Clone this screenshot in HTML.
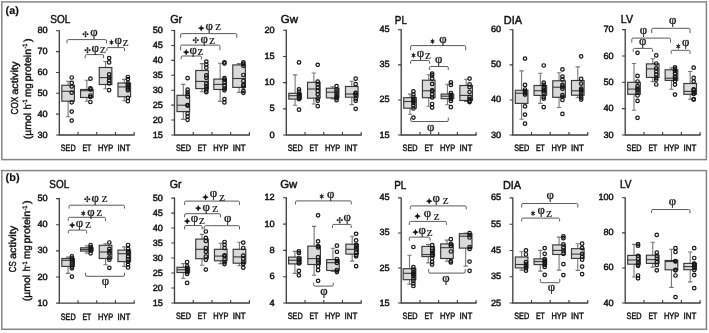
<!DOCTYPE html>
<html lang="en"><head><meta charset="utf-8"><title>COX and CS activity</title>
<style>html,body{margin:0;padding:0;background:#fff}svg{display:block}</style></head><body>
<svg width="709" height="333" viewBox="0 0 709 333" text-rendering="geometricPrecision">
<defs><filter id="soft" x="0" y="0" width="709" height="333" filterUnits="userSpaceOnUse"><feGaussianBlur stdDeviation="0.35"/></filter></defs>
<rect width="709" height="333" fill="#fff"/>
<g filter="url(#soft)">
<rect x="1.8" y="1.9" width="704.6" height="157.7" fill="#fff" stroke="#868686" stroke-width="1.5"/>
<rect x="1.8" y="170.6" width="704.6" height="158.7" fill="#fff" stroke="#868686" stroke-width="1.5"/>
<text x="5.6" y="14.1" font-family="Liberation Sans, sans-serif" font-size="10.8" fill="#111" textLength="13.4" lengthAdjust="spacingAndGlyphs" font-weight="bold" stroke="#111" stroke-width="0.15">(a)</text>
<text x="5.6" y="180.7" font-family="Liberation Sans, sans-serif" font-size="10.8" fill="#111" textLength="14" lengthAdjust="spacingAndGlyphs" font-weight="bold" stroke="#111" stroke-width="0.15">(b)</text>
<text transform="translate(18.1 114.6) rotate(-90)" font-family="Liberation Sans, sans-serif" font-size="10.1" fill="#101010" stroke="#101010" stroke-width="0.4" textLength="18" lengthAdjust="spacingAndGlyphs">COX</text>
<text transform="translate(18.1 94.7) rotate(-90)" font-family="Liberation Sans, sans-serif" font-size="10.1" fill="#101010" stroke="#101010" stroke-width="0.4" textLength="33" lengthAdjust="spacingAndGlyphs">activity</text>
<text transform="translate(30.9 139.2) rotate(-90)" font-family="Liberation Sans, sans-serif" font-size="10.1" fill="#101010" stroke="#101010" stroke-width="0.4" textLength="26.4" lengthAdjust="spacingAndGlyphs">(µmol</text>
<text transform="translate(30.9 109.6) rotate(-90)" font-family="Liberation Sans, sans-serif" font-size="10.1" fill="#101010" stroke="#101010" stroke-width="0.4" textLength="5.2" lengthAdjust="spacingAndGlyphs">h</text>
<text transform="translate(27.2 104.4) rotate(-90)" font-family="Liberation Sans, sans-serif" font-size="6.4" fill="#101010" stroke="#101010" stroke-width="0.4" textLength="5" lengthAdjust="spacingAndGlyphs">-1</text>
<text transform="translate(30.9 96.9) rotate(-90)" font-family="Liberation Sans, sans-serif" font-size="10.1" fill="#101010" stroke="#101010" stroke-width="0.4" textLength="13.8" lengthAdjust="spacingAndGlyphs">mg</text>
<text transform="translate(30.9 81.6) rotate(-90)" font-family="Liberation Sans, sans-serif" font-size="10.1" fill="#101010" stroke="#101010" stroke-width="0.4" textLength="32.8" lengthAdjust="spacingAndGlyphs">protein</text>
<text transform="translate(27.2 48.6) rotate(-90)" font-family="Liberation Sans, sans-serif" font-size="6.4" fill="#101010" stroke="#101010" stroke-width="0.4" textLength="5" lengthAdjust="spacingAndGlyphs">-1</text>
<text transform="translate(30.9 41.9) rotate(-90)" font-family="Liberation Sans, sans-serif" font-size="10.1" fill="#101010" stroke="#101010" stroke-width="0.4" textLength="3.8" lengthAdjust="spacingAndGlyphs">)</text>
<text transform="translate(16.1 272.2) rotate(-90)" font-family="Liberation Sans, sans-serif" font-size="10.1" fill="#101010" stroke="#101010" stroke-width="0.4" textLength="10.9" lengthAdjust="spacingAndGlyphs">CS</text>
<text transform="translate(16.1 258.9) rotate(-90)" font-family="Liberation Sans, sans-serif" font-size="10.1" fill="#101010" stroke="#101010" stroke-width="0.4" textLength="33" lengthAdjust="spacingAndGlyphs">activity</text>
<text transform="translate(30.3 301.2) rotate(-90)" font-family="Liberation Sans, sans-serif" font-size="10.1" fill="#101010" stroke="#101010" stroke-width="0.4" textLength="26.4" lengthAdjust="spacingAndGlyphs">(µmol</text>
<text transform="translate(30.3 271.6) rotate(-90)" font-family="Liberation Sans, sans-serif" font-size="10.1" fill="#101010" stroke="#101010" stroke-width="0.4" textLength="5.2" lengthAdjust="spacingAndGlyphs">h</text>
<text transform="translate(26.6 266.4) rotate(-90)" font-family="Liberation Sans, sans-serif" font-size="6.4" fill="#101010" stroke="#101010" stroke-width="0.4" textLength="5" lengthAdjust="spacingAndGlyphs">-1</text>
<text transform="translate(30.3 258.9) rotate(-90)" font-family="Liberation Sans, sans-serif" font-size="10.1" fill="#101010" stroke="#101010" stroke-width="0.4" textLength="13.8" lengthAdjust="spacingAndGlyphs">mg</text>
<text transform="translate(30.3 243.6) rotate(-90)" font-family="Liberation Sans, sans-serif" font-size="10.1" fill="#101010" stroke="#101010" stroke-width="0.4" textLength="32.8" lengthAdjust="spacingAndGlyphs">protein</text>
<text transform="translate(26.6 210.6) rotate(-90)" font-family="Liberation Sans, sans-serif" font-size="6.4" fill="#101010" stroke="#101010" stroke-width="0.4" textLength="5" lengthAdjust="spacingAndGlyphs">-1</text>
<text transform="translate(30.3 203.9) rotate(-90)" font-family="Liberation Sans, sans-serif" font-size="10.1" fill="#101010" stroke="#101010" stroke-width="0.4" textLength="3.8" lengthAdjust="spacingAndGlyphs">)</text>
<path d="M59.3 30.3V135H134.68" fill="none" stroke="#3c3c3c" stroke-width="1.3"/>
<path d="M56.1 30.8H59.3M56.1 51.64H59.3M56.1 72.48H59.3M56.1 93.32H59.3M56.1 114.16H59.3M56.1 135H59.3M78.02 135V132M96.74 135V132M115.46 135V132M134.18 135V132" fill="none" stroke="#3c3c3c" stroke-width="1.1"/>
<text x="47.7" y="33.35" font-family="Liberation Sans, sans-serif" font-size="9" fill="#101010" text-anchor="end" textLength="10.2" lengthAdjust="spacingAndGlyphs" stroke="#101010" stroke-width="0.45">80</text>
<text x="47.7" y="54.19" font-family="Liberation Sans, sans-serif" font-size="9" fill="#101010" text-anchor="end" textLength="10.2" lengthAdjust="spacingAndGlyphs" stroke="#101010" stroke-width="0.45">70</text>
<text x="47.7" y="75.03" font-family="Liberation Sans, sans-serif" font-size="9" fill="#101010" text-anchor="end" textLength="10.2" lengthAdjust="spacingAndGlyphs" stroke="#101010" stroke-width="0.45">60</text>
<text x="47.7" y="95.87" font-family="Liberation Sans, sans-serif" font-size="9" fill="#101010" text-anchor="end" textLength="10.2" lengthAdjust="spacingAndGlyphs" stroke="#101010" stroke-width="0.45">50</text>
<text x="47.7" y="116.71" font-family="Liberation Sans, sans-serif" font-size="9" fill="#101010" text-anchor="end" textLength="10.2" lengthAdjust="spacingAndGlyphs" stroke="#101010" stroke-width="0.45">40</text>
<text x="47.7" y="137.55" font-family="Liberation Sans, sans-serif" font-size="9" fill="#101010" text-anchor="end" textLength="10.2" lengthAdjust="spacingAndGlyphs" stroke="#101010" stroke-width="0.45">30</text>
<text x="60.71" y="151.2" font-family="Liberation Sans, sans-serif" font-size="9.2" fill="#101010" textLength="15" lengthAdjust="spacingAndGlyphs" stroke="#101010" stroke-width="0.45">SED</text>
<text x="82.48" y="151.2" font-family="Liberation Sans, sans-serif" font-size="9.2" fill="#101010" textLength="8.9" lengthAdjust="spacingAndGlyphs" stroke="#101010" stroke-width="0.45">ET</text>
<text x="98" y="151.2" font-family="Liberation Sans, sans-serif" font-size="9.2" fill="#101010" textLength="15.3" lengthAdjust="spacingAndGlyphs" stroke="#101010" stroke-width="0.45">HYP</text>
<text x="117.57" y="151.2" font-family="Liberation Sans, sans-serif" font-size="9.2" fill="#101010" textLength="12.8" lengthAdjust="spacingAndGlyphs" stroke="#101010" stroke-width="0.45">INT</text>
<text x="50.25" y="23.2" font-family="Liberation Sans, sans-serif" font-size="11.5" fill="#101010" textLength="20" lengthAdjust="spacingAndGlyphs" stroke="#101010" stroke-width="0.45">SOL</text>
<path d="M68.11 81.3V85.3M68.11 101.2V116.8M65.91 81.3H70.31M65.91 116.8H70.31" fill="none" stroke="#787878" stroke-width="1.1"/>
<rect x="61.81" y="85.3" width="12.6" height="15.9" fill="#d9d9d9" stroke="#383838" stroke-width="1.15"/>
<path d="M61.81 91.3H74.41" stroke="#383838" stroke-width="1.1"/>
<g fill="none" stroke="#141414" stroke-width="1.2"><circle cx="71.71" cy="77.5" r="1.75"/><circle cx="71.71" cy="82.9" r="1.75"/><circle cx="71.71" cy="86.5" r="1.75"/><circle cx="71.71" cy="92.7" r="1.75"/><circle cx="71.71" cy="102.3" r="1.75"/><circle cx="71.71" cy="111.6" r="1.75"/><circle cx="71.71" cy="120.6" r="1.75"/></g>
<path d="M86.83 80.2V89.5M86.83 97.5V101.2M84.63 80.2H89.03M84.63 101.2H89.03" fill="none" stroke="#787878" stroke-width="1.1"/>
<rect x="80.53" y="89.5" width="12.6" height="8" fill="#d9d9d9" stroke="#383838" stroke-width="1.15"/>
<path d="M80.53 90.7H93.13" stroke="#383838" stroke-width="1.1"/>
<g fill="none" stroke="#141414" stroke-width="1.2"><circle cx="90.43" cy="78.7" r="1.75"/><circle cx="90.43" cy="88.3" r="1.75"/><circle cx="90.43" cy="89.4" r="1.75"/><circle cx="90.43" cy="95.5" r="1.75"/><circle cx="90.43" cy="97" r="1.75"/><circle cx="90.43" cy="102" r="1.75"/></g>
<path d="M105.55 61.5V67.5M105.55 84.5V88.7M103.35 61.5H107.75M103.35 88.7H107.75" fill="none" stroke="#787878" stroke-width="1.1"/>
<rect x="99.25" y="67.5" width="12.6" height="17" fill="#d9d9d9" stroke="#383838" stroke-width="1.15"/>
<path d="M99.25 77.6H111.85" stroke="#383838" stroke-width="1.1"/>
<g fill="none" stroke="#141414" stroke-width="1.2"><circle cx="109.15" cy="58.1" r="1.75"/><circle cx="109.15" cy="62.4" r="1.75"/><circle cx="109.15" cy="74.3" r="1.75"/><circle cx="109.15" cy="77.6" r="1.75"/><circle cx="109.15" cy="80.6" r="1.75"/><circle cx="109.15" cy="83.4" r="1.75"/><circle cx="109.15" cy="90.2" r="1.75"/></g>
<path d="M124.27 79.4V83M124.27 96.7V100.8M122.07 79.4H126.47M122.07 100.8H126.47" fill="none" stroke="#787878" stroke-width="1.1"/>
<rect x="117.97" y="83" width="12.6" height="13.7" fill="#d9d9d9" stroke="#383838" stroke-width="1.15"/>
<path d="M117.97 86.9H130.57" stroke="#383838" stroke-width="1.1"/>
<g fill="none" stroke="#141414" stroke-width="1.2"><circle cx="127.87" cy="77" r="1.75"/><circle cx="127.87" cy="79.2" r="1.75"/><circle cx="127.87" cy="83.3" r="1.75"/><circle cx="127.87" cy="85.1" r="1.75"/><circle cx="127.87" cy="86.9" r="1.75"/><circle cx="127.87" cy="88.7" r="1.75"/><circle cx="127.87" cy="90.3" r="1.75"/><circle cx="127.87" cy="97.8" r="1.75"/><circle cx="127.87" cy="101.2" r="1.75"/></g>
<path d="M67 43.3V40.9Q67 39.6 68.3 39.6H105.2Q106.5 39.6 106.5 40.9V43.3" fill="none" stroke="#4a4a4a" stroke-width="0.9"/>
<path d="M85.2 58.2V55.9Q85.2 54.6 86.5 54.6H102.3Q103.6 54.6 103.6 55.9V58.2" fill="none" stroke="#4a4a4a" stroke-width="0.9"/>
<path d="M106.9 51V48.9Q106.9 47.6 108.2 47.6H123.2Q124.5 47.6 124.5 48.9V51" fill="none" stroke="#4a4a4a" stroke-width="0.9"/>
<text x="82.3" y="36.7" font-family="DejaVu Sans, sans-serif" font-size="7.8" fill="#101010" stroke="#1a1a1a" stroke-width="0.22">✣</text>
<text x="90.3" y="35.5" font-family="Liberation Serif, serif" font-size="13" fill="#101010" textLength="7.4" lengthAdjust="spacingAndGlyphs" stroke="#1a1a1a" stroke-width="0.3">φ</text>
<text x="84.3" y="52.6" font-family="DejaVu Sans, sans-serif" font-size="7.8" fill="#101010" stroke="#1a1a1a" stroke-width="0.22">✣</text>
<text x="91.6" y="51.9" font-family="Liberation Serif, serif" font-size="13" fill="#101010" textLength="7.4" lengthAdjust="spacingAndGlyphs" stroke="#1a1a1a" stroke-width="0.3">φ</text>
<text x="100.05" y="52.9" font-family="Liberation Serif, serif" font-size="13" fill="#101010" stroke="#1a1a1a" stroke-width="0.12">z</text>
<text x="109.1" y="45.2" font-family="DejaVu Sans, sans-serif" font-size="7.2" fill="#101010" textLength="5" lengthAdjust="spacingAndGlyphs" stroke="#1a1a1a" stroke-width="0.55" stroke-linejoin="miter">✶</text>
<text x="114.5" y="44.2" font-family="Liberation Serif, serif" font-size="13" fill="#101010" textLength="7.4" lengthAdjust="spacingAndGlyphs" stroke="#1a1a1a" stroke-width="0.3">φ</text>
<text x="122.65" y="45.6" font-family="Liberation Serif, serif" font-size="13" fill="#101010" stroke="#1a1a1a" stroke-width="0.12">z</text>
<path d="M174.5 30V135H249.88" fill="none" stroke="#3c3c3c" stroke-width="1.3"/>
<path d="M171.3 30.5H174.5M171.3 45.43H174.5M171.3 60.36H174.5M171.3 75.29H174.5M171.3 90.21H174.5M171.3 105.14H174.5M171.3 120.07H174.5M171.3 135H174.5M193.22 135V132M211.94 135V132M230.66 135V132M249.38 135V132" fill="none" stroke="#3c3c3c" stroke-width="1.1"/>
<text x="162.9" y="33.05" font-family="Liberation Sans, sans-serif" font-size="9" fill="#101010" text-anchor="end" textLength="10.2" lengthAdjust="spacingAndGlyphs" stroke="#101010" stroke-width="0.45">50</text>
<text x="162.9" y="47.98" font-family="Liberation Sans, sans-serif" font-size="9" fill="#101010" text-anchor="end" textLength="10.2" lengthAdjust="spacingAndGlyphs" stroke="#101010" stroke-width="0.45">45</text>
<text x="162.9" y="62.91" font-family="Liberation Sans, sans-serif" font-size="9" fill="#101010" text-anchor="end" textLength="10.2" lengthAdjust="spacingAndGlyphs" stroke="#101010" stroke-width="0.45">40</text>
<text x="162.9" y="77.84" font-family="Liberation Sans, sans-serif" font-size="9" fill="#101010" text-anchor="end" textLength="10.2" lengthAdjust="spacingAndGlyphs" stroke="#101010" stroke-width="0.45">35</text>
<text x="162.9" y="92.76" font-family="Liberation Sans, sans-serif" font-size="9" fill="#101010" text-anchor="end" textLength="10.2" lengthAdjust="spacingAndGlyphs" stroke="#101010" stroke-width="0.45">30</text>
<text x="162.9" y="107.69" font-family="Liberation Sans, sans-serif" font-size="9" fill="#101010" text-anchor="end" textLength="10.2" lengthAdjust="spacingAndGlyphs" stroke="#101010" stroke-width="0.45">25</text>
<text x="162.9" y="122.62" font-family="Liberation Sans, sans-serif" font-size="9" fill="#101010" text-anchor="end" textLength="10.2" lengthAdjust="spacingAndGlyphs" stroke="#101010" stroke-width="0.45">20</text>
<text x="162.9" y="137.55" font-family="Liberation Sans, sans-serif" font-size="9" fill="#101010" text-anchor="end" textLength="10.2" lengthAdjust="spacingAndGlyphs" stroke="#101010" stroke-width="0.45">15</text>
<text x="175.91" y="151.2" font-family="Liberation Sans, sans-serif" font-size="9.2" fill="#101010" textLength="15" lengthAdjust="spacingAndGlyphs" stroke="#101010" stroke-width="0.45">SED</text>
<text x="197.68" y="151.2" font-family="Liberation Sans, sans-serif" font-size="9.2" fill="#101010" textLength="8.9" lengthAdjust="spacingAndGlyphs" stroke="#101010" stroke-width="0.45">ET</text>
<text x="213.2" y="151.2" font-family="Liberation Sans, sans-serif" font-size="9.2" fill="#101010" textLength="15.3" lengthAdjust="spacingAndGlyphs" stroke="#101010" stroke-width="0.45">HYP</text>
<text x="232.77" y="151.2" font-family="Liberation Sans, sans-serif" font-size="9.2" fill="#101010" textLength="12.8" lengthAdjust="spacingAndGlyphs" stroke="#101010" stroke-width="0.45">INT</text>
<text x="170.15" y="22.9" font-family="Liberation Sans, sans-serif" font-size="11.5" fill="#101010" textLength="12.1" lengthAdjust="spacingAndGlyphs" stroke="#101010" stroke-width="0.45">Gr</text>
<path d="M183.31 84.4V95.3M183.31 111.6V119.4M181.11 84.4H185.51M181.11 119.4H185.51" fill="none" stroke="#787878" stroke-width="1.1"/>
<rect x="177.01" y="95.3" width="12.6" height="16.3" fill="#d9d9d9" stroke="#383838" stroke-width="1.15"/>
<path d="M177.01 105.2H189.61" stroke="#383838" stroke-width="1.1"/>
<g fill="none" stroke="#141414" stroke-width="1.2"><circle cx="187.61" cy="78.2" r="1.75"/><circle cx="187.61" cy="89.6" r="1.75"/><circle cx="187.61" cy="92" r="1.75"/><circle cx="187.61" cy="94" r="1.75"/><circle cx="187.61" cy="96.6" r="1.75"/><circle cx="187.61" cy="105.2" r="1.75"/><circle cx="187.61" cy="105.6" r="1.75"/><circle cx="187.61" cy="113.5" r="1.75"/><circle cx="187.61" cy="116.6" r="1.75"/><circle cx="187.61" cy="119.8" r="1.75"/></g>
<path d="M202.03 63.6V70.5M202.03 88.6V91.8M199.83 63.6H204.23M199.83 91.8H204.23" fill="none" stroke="#787878" stroke-width="1.1"/>
<rect x="195.73" y="70.5" width="12.6" height="18.1" fill="#d9d9d9" stroke="#383838" stroke-width="1.15"/>
<path d="M195.73 81.4H208.33" stroke="#383838" stroke-width="1.1"/>
<g fill="none" stroke="#141414" stroke-width="1.2"><circle cx="206.33" cy="61.6" r="1.75"/><circle cx="206.33" cy="64.5" r="1.75"/><circle cx="206.33" cy="67.7" r="1.75"/><circle cx="206.33" cy="75.3" r="1.75"/><circle cx="206.33" cy="77.8" r="1.75"/><circle cx="206.33" cy="83.6" r="1.75"/><circle cx="206.33" cy="86.1" r="1.75"/><circle cx="206.33" cy="88.6" r="1.75"/><circle cx="206.33" cy="90.5" r="1.75"/><circle cx="206.33" cy="92.2" r="1.75"/></g>
<path d="M220.15 63.2V79.1M220.15 89.5V101.4M217.95 63.2H222.35M217.95 101.4H222.35" fill="none" stroke="#787878" stroke-width="1.1"/>
<rect x="213.85" y="79.1" width="12.6" height="10.4" fill="#d9d9d9" stroke="#383838" stroke-width="1.15"/>
<path d="M213.85 84.4H226.45" stroke="#383838" stroke-width="1.1"/>
<g fill="none" stroke="#141414" stroke-width="1.2"><circle cx="224.45" cy="62.4" r="1.75"/><circle cx="224.45" cy="63.4" r="1.75"/><circle cx="224.45" cy="78.2" r="1.75"/><circle cx="224.45" cy="79.7" r="1.75"/><circle cx="224.45" cy="82.3" r="1.75"/><circle cx="224.45" cy="85.5" r="1.75"/><circle cx="224.45" cy="88.6" r="1.75"/><circle cx="224.45" cy="90.3" r="1.75"/><circle cx="224.45" cy="99.1" r="1.75"/><circle cx="224.45" cy="102.4" r="1.75"/></g>
<path d="M239.07 63.6V64.9M239.07 87.4V92.4M236.87 63.6H241.27M236.87 92.4H241.27" fill="none" stroke="#787878" stroke-width="1.1"/>
<rect x="232.77" y="64.9" width="12.6" height="22.5" fill="#d9d9d9" stroke="#383838" stroke-width="1.15"/>
<path d="M232.77 78.5H245.37" stroke="#383838" stroke-width="1.1"/>
<g fill="none" stroke="#141414" stroke-width="1.2"><circle cx="243.37" cy="62.4" r="1.75"/><circle cx="243.37" cy="63.9" r="1.75"/><circle cx="243.37" cy="65.8" r="1.75"/><circle cx="243.37" cy="75" r="1.75"/><circle cx="243.37" cy="81" r="1.75"/><circle cx="243.37" cy="84.8" r="1.75"/><circle cx="243.37" cy="86.5" r="1.75"/><circle cx="243.37" cy="90.9" r="1.75"/><circle cx="243.37" cy="92.8" r="1.75"/></g>
<path d="M180.6 37.8V34.9Q180.6 33.6 181.9 33.6H235.5Q236.8 33.6 236.8 34.9V37.8" fill="none" stroke="#4a4a4a" stroke-width="0.9"/>
<path d="M180.6 50.2V46.4Q180.6 45.1 181.9 45.1H218.6Q219.9 45.1 219.9 46.4V50.2" fill="none" stroke="#4a4a4a" stroke-width="0.9"/>
<path d="M181.2 59.3V57.3Q181.2 56 182.5 56H200.1Q201.4 56 201.4 57.3V59.3" fill="none" stroke="#4a4a4a" stroke-width="0.9"/>
<text x="197.9" y="30.5" font-family="DejaVu Sans, sans-serif" font-size="7.7" fill="#101010" stroke="#1a1a1a" stroke-width="0.75" stroke-linejoin="miter">✦</text>
<text x="205.5" y="29.7" font-family="Liberation Serif, serif" font-size="13" fill="#101010" textLength="7.4" lengthAdjust="spacingAndGlyphs" stroke="#1a1a1a" stroke-width="0.3">φ</text>
<text x="215.25" y="30.4" font-family="Liberation Serif, serif" font-size="13" fill="#101010" stroke="#1a1a1a" stroke-width="0.12">z</text>
<text x="192.4" y="43.1" font-family="DejaVu Sans, sans-serif" font-size="7.8" fill="#101010" stroke="#1a1a1a" stroke-width="0.22">✣</text>
<text x="200.6" y="42.9" font-family="Liberation Serif, serif" font-size="13" fill="#101010" textLength="7.4" lengthAdjust="spacingAndGlyphs" stroke="#1a1a1a" stroke-width="0.3">φ</text>
<text x="209.25" y="43.6" font-family="Liberation Serif, serif" font-size="13" fill="#101010" stroke="#1a1a1a" stroke-width="0.12">z</text>
<text x="183.1" y="54.7" font-family="DejaVu Sans, sans-serif" font-size="7.7" fill="#101010" stroke="#1a1a1a" stroke-width="0.75" stroke-linejoin="miter">✦</text>
<text x="189.6" y="54.2" font-family="Liberation Serif, serif" font-size="13" fill="#101010" textLength="7.4" lengthAdjust="spacingAndGlyphs" stroke="#1a1a1a" stroke-width="0.3">φ</text>
<text x="197.45" y="54.9" font-family="Liberation Serif, serif" font-size="13" fill="#101010" stroke="#1a1a1a" stroke-width="0.12">z</text>
<path d="M286.3 29.8V135H361.68" fill="none" stroke="#3c3c3c" stroke-width="1.3"/>
<path d="M283.1 30.3H286.3M283.1 56.48H286.3M283.1 82.65H286.3M283.1 108.83H286.3M283.1 135H286.3M305.02 135V132M323.74 135V132M342.46 135V132M361.18 135V132" fill="none" stroke="#3c3c3c" stroke-width="1.1"/>
<text x="274.7" y="32.85" font-family="Liberation Sans, sans-serif" font-size="9" fill="#101010" text-anchor="end" textLength="10.2" lengthAdjust="spacingAndGlyphs" stroke="#101010" stroke-width="0.45">20</text>
<text x="274.7" y="59.02" font-family="Liberation Sans, sans-serif" font-size="9" fill="#101010" text-anchor="end" textLength="10.2" lengthAdjust="spacingAndGlyphs" stroke="#101010" stroke-width="0.45">15</text>
<text x="274.7" y="85.2" font-family="Liberation Sans, sans-serif" font-size="9" fill="#101010" text-anchor="end" textLength="10.2" lengthAdjust="spacingAndGlyphs" stroke="#101010" stroke-width="0.45">10</text>
<text x="274.7" y="111.38" font-family="Liberation Sans, sans-serif" font-size="9" fill="#101010" text-anchor="end" textLength="5.2" lengthAdjust="spacingAndGlyphs" stroke="#101010" stroke-width="0.45">5</text>
<text x="274.7" y="137.55" font-family="Liberation Sans, sans-serif" font-size="9" fill="#101010" text-anchor="end" textLength="5.2" lengthAdjust="spacingAndGlyphs" stroke="#101010" stroke-width="0.45">0</text>
<text x="287.71" y="151.2" font-family="Liberation Sans, sans-serif" font-size="9.2" fill="#101010" textLength="15" lengthAdjust="spacingAndGlyphs" stroke="#101010" stroke-width="0.45">SED</text>
<text x="309.48" y="151.2" font-family="Liberation Sans, sans-serif" font-size="9.2" fill="#101010" textLength="8.9" lengthAdjust="spacingAndGlyphs" stroke="#101010" stroke-width="0.45">ET</text>
<text x="325" y="151.2" font-family="Liberation Sans, sans-serif" font-size="9.2" fill="#101010" textLength="15.3" lengthAdjust="spacingAndGlyphs" stroke="#101010" stroke-width="0.45">HYP</text>
<text x="344.57" y="151.2" font-family="Liberation Sans, sans-serif" font-size="9.2" fill="#101010" textLength="12.8" lengthAdjust="spacingAndGlyphs" stroke="#101010" stroke-width="0.45">INT</text>
<text x="280.85" y="22.9" font-family="Liberation Sans, sans-serif" font-size="11.5" fill="#101010" textLength="17.2" lengthAdjust="spacingAndGlyphs" stroke="#101010" stroke-width="0.45">Gw</text>
<path d="M295.11 74.9V93.3M295.11 99.1V105.2M292.91 74.9H297.31M292.91 105.2H297.31" fill="none" stroke="#787878" stroke-width="1.1"/>
<rect x="288.81" y="93.3" width="12.6" height="5.8" fill="#d9d9d9" stroke="#383838" stroke-width="1.15"/>
<path d="M288.81 95.7H301.41" stroke="#383838" stroke-width="1.1"/>
<g fill="none" stroke="#141414" stroke-width="1.2"><circle cx="299.01" cy="62.4" r="1.75"/><circle cx="299.01" cy="89.3" r="1.75"/><circle cx="299.01" cy="91.7" r="1.75"/><circle cx="299.01" cy="94.4" r="1.75"/><circle cx="299.01" cy="96.1" r="1.75"/><circle cx="299.01" cy="97.6" r="1.75"/><circle cx="299.01" cy="99.1" r="1.75"/><circle cx="299.01" cy="109.7" r="1.75"/></g>
<path d="M313.83 73V82.3M313.83 98.2V104M311.63 73H316.03M311.63 104H316.03" fill="none" stroke="#787878" stroke-width="1.1"/>
<rect x="307.53" y="82.3" width="12.6" height="15.9" fill="#d9d9d9" stroke="#383838" stroke-width="1.15"/>
<path d="M307.53 89H320.13" stroke="#383838" stroke-width="1.1"/>
<g fill="none" stroke="#141414" stroke-width="1.2"><circle cx="317.73" cy="64.8" r="1.75"/><circle cx="317.73" cy="81.6" r="1.75"/><circle cx="317.73" cy="84.4" r="1.75"/><circle cx="317.73" cy="87.4" r="1.75"/><circle cx="317.73" cy="90.9" r="1.75"/><circle cx="317.73" cy="94.3" r="1.75"/><circle cx="317.73" cy="98.6" r="1.75"/><circle cx="317.73" cy="100.8" r="1.75"/><circle cx="317.73" cy="106.2" r="1.75"/></g>
<path d="M332.65 86.7V88.2M332.65 97.9V98.9M330.45 86.7H334.85M330.45 98.9H334.85" fill="none" stroke="#787878" stroke-width="1.1"/>
<rect x="326.35" y="88.2" width="12.6" height="9.7" fill="#d9d9d9" stroke="#383838" stroke-width="1.15"/>
<path d="M326.35 92.2H338.95" stroke="#383838" stroke-width="1.1"/>
<g fill="none" stroke="#141414" stroke-width="1.2"><circle cx="336.55" cy="86.1" r="1.75"/><circle cx="336.55" cy="89.3" r="1.75"/><circle cx="336.55" cy="91.6" r="1.75"/><circle cx="336.55" cy="93.8" r="1.75"/><circle cx="336.55" cy="96.3" r="1.75"/><circle cx="336.55" cy="98.2" r="1.75"/><circle cx="336.55" cy="100.2" r="1.75"/></g>
<path d="M351.77 81.3V86.5M351.77 97.2V104.6M349.57 81.3H353.97M349.57 104.6H353.97" fill="none" stroke="#787878" stroke-width="1.1"/>
<rect x="345.47" y="86.5" width="12.6" height="10.7" fill="#d9d9d9" stroke="#383838" stroke-width="1.15"/>
<path d="M345.47 94H358.07" stroke="#383838" stroke-width="1.1"/>
<g fill="none" stroke="#141414" stroke-width="1.2"><circle cx="355.67" cy="78.7" r="1.75"/><circle cx="355.67" cy="84.2" r="1.75"/><circle cx="355.67" cy="92.9" r="1.75"/><circle cx="355.67" cy="93.5" r="1.75"/><circle cx="355.67" cy="95" r="1.75"/><circle cx="355.67" cy="98.6" r="1.75"/><circle cx="355.67" cy="100.8" r="1.75"/><circle cx="355.67" cy="108.8" r="1.75"/></g>
<path d="M401.2 29.3V135H476.58" fill="none" stroke="#3c3c3c" stroke-width="1.3"/>
<path d="M398 29.8H401.2M398 64.87H401.2M398 99.93H401.2M398 135H401.2M419.92 135V132M438.64 135V132M457.36 135V132M476.08 135V132" fill="none" stroke="#3c3c3c" stroke-width="1.1"/>
<text x="389.6" y="32.35" font-family="Liberation Sans, sans-serif" font-size="9" fill="#101010" text-anchor="end" textLength="10.2" lengthAdjust="spacingAndGlyphs" stroke="#101010" stroke-width="0.45">45</text>
<text x="389.6" y="67.42" font-family="Liberation Sans, sans-serif" font-size="9" fill="#101010" text-anchor="end" textLength="10.2" lengthAdjust="spacingAndGlyphs" stroke="#101010" stroke-width="0.45">35</text>
<text x="389.6" y="102.48" font-family="Liberation Sans, sans-serif" font-size="9" fill="#101010" text-anchor="end" textLength="10.2" lengthAdjust="spacingAndGlyphs" stroke="#101010" stroke-width="0.45">25</text>
<text x="389.6" y="137.55" font-family="Liberation Sans, sans-serif" font-size="9" fill="#101010" text-anchor="end" textLength="10.2" lengthAdjust="spacingAndGlyphs" stroke="#101010" stroke-width="0.45">15</text>
<text x="402.61" y="151.2" font-family="Liberation Sans, sans-serif" font-size="9.2" fill="#101010" textLength="15" lengthAdjust="spacingAndGlyphs" stroke="#101010" stroke-width="0.45">SED</text>
<text x="424.38" y="151.2" font-family="Liberation Sans, sans-serif" font-size="9.2" fill="#101010" textLength="8.9" lengthAdjust="spacingAndGlyphs" stroke="#101010" stroke-width="0.45">ET</text>
<text x="439.9" y="151.2" font-family="Liberation Sans, sans-serif" font-size="9.2" fill="#101010" textLength="15.3" lengthAdjust="spacingAndGlyphs" stroke="#101010" stroke-width="0.45">HYP</text>
<text x="459.47" y="151.2" font-family="Liberation Sans, sans-serif" font-size="9.2" fill="#101010" textLength="12.8" lengthAdjust="spacingAndGlyphs" stroke="#101010" stroke-width="0.45">INT</text>
<text x="394.85" y="23.5" font-family="Liberation Sans, sans-serif" font-size="11.5" fill="#101010" textLength="12.1" lengthAdjust="spacingAndGlyphs" stroke="#101010" stroke-width="0.45">PL</text>
<path d="M410.01 94.1V97.7M410.01 108.2V114.2M407.81 94.1H412.21M407.81 114.2H412.21" fill="none" stroke="#787878" stroke-width="1.1"/>
<rect x="403.71" y="97.7" width="12.6" height="10.5" fill="#d9d9d9" stroke="#383838" stroke-width="1.15"/>
<path d="M403.71 101.5H416.31" stroke="#383838" stroke-width="1.1"/>
<g fill="none" stroke="#141414" stroke-width="1.2"><circle cx="413.41" cy="91.4" r="1.75"/><circle cx="413.41" cy="94.5" r="1.75"/><circle cx="413.41" cy="97" r="1.75"/><circle cx="413.41" cy="99" r="1.75"/><circle cx="413.41" cy="100.9" r="1.75"/><circle cx="413.41" cy="102.8" r="1.75"/><circle cx="413.41" cy="105.3" r="1.75"/><circle cx="413.41" cy="108.5" r="1.75"/><circle cx="413.41" cy="117.6" r="1.75"/></g>
<path d="M428.73 74.7V80.2M428.73 97.7V106.3M426.53 74.7H430.93M426.53 106.3H430.93" fill="none" stroke="#787878" stroke-width="1.1"/>
<rect x="422.43" y="80.2" width="12.6" height="17.5" fill="#d9d9d9" stroke="#383838" stroke-width="1.15"/>
<path d="M422.43 90.8H435.03" stroke="#383838" stroke-width="1.1"/>
<g fill="none" stroke="#141414" stroke-width="1.2"><circle cx="432.13" cy="73.7" r="1.75"/><circle cx="432.13" cy="75.4" r="1.75"/><circle cx="432.13" cy="78.6" r="1.75"/><circle cx="432.13" cy="83.9" r="1.75"/><circle cx="432.13" cy="90.4" r="1.75"/><circle cx="432.13" cy="91" r="1.75"/><circle cx="432.13" cy="94.5" r="1.75"/><circle cx="432.13" cy="97.4" r="1.75"/><circle cx="432.13" cy="104" r="1.75"/><circle cx="432.13" cy="107.6" r="1.75"/></g>
<path d="M447.45 84.3V94.1M447.45 98.7V104.7M445.25 84.3H449.65M445.25 104.7H449.65" fill="none" stroke="#787878" stroke-width="1.1"/>
<rect x="441.15" y="94.1" width="12.6" height="4.6" fill="#d9d9d9" stroke="#383838" stroke-width="1.15"/>
<path d="M441.15 96.2H453.75" stroke="#383838" stroke-width="1.1"/>
<g fill="none" stroke="#141414" stroke-width="1.2"><circle cx="450.85" cy="82.4" r="1.75"/><circle cx="450.85" cy="84.9" r="1.75"/><circle cx="450.85" cy="93.2" r="1.75"/><circle cx="450.85" cy="95.2" r="1.75"/><circle cx="450.85" cy="97" r="1.75"/><circle cx="450.85" cy="99" r="1.75"/><circle cx="450.85" cy="100.9" r="1.75"/><circle cx="450.85" cy="107.2" r="1.75"/></g>
<path d="M466.17 79.2V85.5M466.17 100.5V101.5M463.97 79.2H468.37M463.97 101.5H468.37" fill="none" stroke="#787878" stroke-width="1.1"/>
<rect x="459.87" y="85.5" width="12.6" height="15" fill="#d9d9d9" stroke="#383838" stroke-width="1.15"/>
<path d="M459.87 95.4H472.47" stroke="#383838" stroke-width="1.1"/>
<g fill="none" stroke="#141414" stroke-width="1.2"><circle cx="469.57" cy="78.6" r="1.75"/><circle cx="469.57" cy="84.3" r="1.75"/><circle cx="469.57" cy="87.2" r="1.75"/><circle cx="469.57" cy="92" r="1.75"/><circle cx="469.57" cy="97" r="1.75"/><circle cx="469.57" cy="99" r="1.75"/><circle cx="469.57" cy="100.9" r="1.75"/><circle cx="469.57" cy="102.1" r="1.75"/></g>
<path d="M410.6 50.3V46.9Q410.6 45.6 411.9 45.6H464.4Q465.7 45.6 465.7 46.9V50.3" fill="none" stroke="#4a4a4a" stroke-width="0.9"/>
<path d="M410.6 63.7V61.8Q410.6 60.5 411.9 60.5H428.3Q429.6 60.5 429.6 61.8V63.7" fill="none" stroke="#4a4a4a" stroke-width="0.9"/>
<path d="M429.4 69.9V67.8Q429.4 66.5 430.7 66.5H447Q448.3 66.5 448.3 67.8V69.9" fill="none" stroke="#4a4a4a" stroke-width="0.9"/>
<path d="M410.6 117.6V120.2Q410.6 121.5 411.9 121.5H447Q448.3 121.5 448.3 120.2V117.6" fill="none" stroke="#4a4a4a" stroke-width="0.9"/>
<text x="429.9" y="43.7" font-family="DejaVu Sans, sans-serif" font-size="7.2" fill="#101010" textLength="5" lengthAdjust="spacingAndGlyphs" stroke="#1a1a1a" stroke-width="0.55" stroke-linejoin="miter">✶</text>
<text x="439.3" y="42.9" font-family="Liberation Serif, serif" font-size="13" fill="#101010" textLength="7.4" lengthAdjust="spacingAndGlyphs" stroke="#1a1a1a" stroke-width="0.3">φ</text>
<text x="410.9" y="58.4" font-family="DejaVu Sans, sans-serif" font-size="7.2" fill="#101010" textLength="5" lengthAdjust="spacingAndGlyphs" stroke="#1a1a1a" stroke-width="0.55" stroke-linejoin="miter">✶</text>
<text x="416.8" y="56.5" font-family="Liberation Serif, serif" font-size="13" fill="#101010" textLength="7.4" lengthAdjust="spacingAndGlyphs" stroke="#1a1a1a" stroke-width="0.3">φ</text>
<text x="425.05" y="59.3" font-family="Liberation Serif, serif" font-size="13" fill="#101010" stroke="#1a1a1a" stroke-width="0.12">z</text>
<text x="435.1" y="62.6" font-family="Liberation Serif, serif" font-size="13" fill="#101010" textLength="7.4" lengthAdjust="spacingAndGlyphs" stroke="#1a1a1a" stroke-width="0.3">φ</text>
<text x="426.9" y="130.5" font-family="Liberation Serif, serif" font-size="13" fill="#101010" textLength="7.4" lengthAdjust="spacingAndGlyphs" stroke="#1a1a1a" stroke-width="0.3">φ</text>
<path d="M512.8 29.3V135H588.18" fill="none" stroke="#3c3c3c" stroke-width="1.3"/>
<path d="M509.6 29.8H512.8M509.6 64.87H512.8M509.6 99.93H512.8M509.6 135H512.8M531.52 135V132M550.24 135V132M568.96 135V132M587.68 135V132" fill="none" stroke="#3c3c3c" stroke-width="1.1"/>
<text x="501.2" y="32.35" font-family="Liberation Sans, sans-serif" font-size="9" fill="#101010" text-anchor="end" textLength="10.2" lengthAdjust="spacingAndGlyphs" stroke="#101010" stroke-width="0.45">60</text>
<text x="501.2" y="67.42" font-family="Liberation Sans, sans-serif" font-size="9" fill="#101010" text-anchor="end" textLength="10.2" lengthAdjust="spacingAndGlyphs" stroke="#101010" stroke-width="0.45">50</text>
<text x="501.2" y="102.48" font-family="Liberation Sans, sans-serif" font-size="9" fill="#101010" text-anchor="end" textLength="10.2" lengthAdjust="spacingAndGlyphs" stroke="#101010" stroke-width="0.45">40</text>
<text x="501.2" y="137.55" font-family="Liberation Sans, sans-serif" font-size="9" fill="#101010" text-anchor="end" textLength="10.2" lengthAdjust="spacingAndGlyphs" stroke="#101010" stroke-width="0.45">30</text>
<text x="514.21" y="151.2" font-family="Liberation Sans, sans-serif" font-size="9.2" fill="#101010" textLength="15" lengthAdjust="spacingAndGlyphs" stroke="#101010" stroke-width="0.45">SED</text>
<text x="535.98" y="151.2" font-family="Liberation Sans, sans-serif" font-size="9.2" fill="#101010" textLength="8.9" lengthAdjust="spacingAndGlyphs" stroke="#101010" stroke-width="0.45">ET</text>
<text x="551.5" y="151.2" font-family="Liberation Sans, sans-serif" font-size="9.2" fill="#101010" textLength="15.3" lengthAdjust="spacingAndGlyphs" stroke="#101010" stroke-width="0.45">HYP</text>
<text x="571.07" y="151.2" font-family="Liberation Sans, sans-serif" font-size="9.2" fill="#101010" textLength="12.8" lengthAdjust="spacingAndGlyphs" stroke="#101010" stroke-width="0.45">INT</text>
<text x="503.85" y="23.5" font-family="Liberation Sans, sans-serif" font-size="11.5" fill="#101010" textLength="18.2" lengthAdjust="spacingAndGlyphs" stroke="#101010" stroke-width="0.45">DIA</text>
<path d="M521.61 70.9V90.3M521.61 103.4V119.3M519.41 70.9H523.81M519.41 119.3H523.81" fill="none" stroke="#787878" stroke-width="1.1"/>
<rect x="515.31" y="90.3" width="12.6" height="13.1" fill="#d9d9d9" stroke="#383838" stroke-width="1.15"/>
<path d="M515.31 93.2H527.91" stroke="#383838" stroke-width="1.1"/>
<g fill="none" stroke="#141414" stroke-width="1.2"><circle cx="525.01" cy="58.6" r="1.75"/><circle cx="525.01" cy="84.9" r="1.75"/><circle cx="525.01" cy="89.5" r="1.75"/><circle cx="525.01" cy="91.3" r="1.75"/><circle cx="525.01" cy="93.2" r="1.75"/><circle cx="525.01" cy="94.6" r="1.75"/><circle cx="525.01" cy="106.3" r="1.75"/><circle cx="525.01" cy="114.6" r="1.75"/><circle cx="525.01" cy="123.7" r="1.75"/></g>
<path d="M540.33 73.2V85.5M540.33 95.4V103.4M538.13 73.2H542.53M538.13 103.4H542.53" fill="none" stroke="#787878" stroke-width="1.1"/>
<rect x="534.03" y="85.5" width="12.6" height="9.9" fill="#d9d9d9" stroke="#383838" stroke-width="1.15"/>
<path d="M534.03 90.7H546.63" stroke="#383838" stroke-width="1.1"/>
<g fill="none" stroke="#141414" stroke-width="1.2"><circle cx="543.73" cy="65.5" r="1.75"/><circle cx="543.73" cy="82.7" r="1.75"/><circle cx="543.73" cy="84.9" r="1.75"/><circle cx="543.73" cy="87.4" r="1.75"/><circle cx="543.73" cy="89.6" r="1.75"/><circle cx="543.73" cy="91" r="1.75"/><circle cx="543.73" cy="92.9" r="1.75"/><circle cx="543.73" cy="97" r="1.75"/><circle cx="543.73" cy="98.7" r="1.75"/><circle cx="543.73" cy="107.2" r="1.75"/></g>
<path d="M559.05 72.8V80.8M559.05 97.3V107.5M556.85 72.8H561.25M556.85 107.5H561.25" fill="none" stroke="#787878" stroke-width="1.1"/>
<rect x="552.75" y="80.8" width="12.6" height="16.5" fill="#d9d9d9" stroke="#383838" stroke-width="1.15"/>
<path d="M552.75 87.2H565.35" stroke="#383838" stroke-width="1.1"/>
<g fill="none" stroke="#141414" stroke-width="1.2"><circle cx="562.45" cy="69.4" r="1.75"/><circle cx="562.45" cy="76.6" r="1.75"/><circle cx="562.45" cy="79.4" r="1.75"/><circle cx="562.45" cy="84.9" r="1.75"/><circle cx="562.45" cy="86.7" r="1.75"/><circle cx="562.45" cy="88.7" r="1.75"/><circle cx="562.45" cy="95.1" r="1.75"/><circle cx="562.45" cy="97" r="1.75"/><circle cx="562.45" cy="100" r="1.75"/><circle cx="562.45" cy="113.9" r="1.75"/></g>
<path d="M577.77 66.9V80.5M577.77 95.2V97.7M575.57 66.9H579.97M575.57 97.7H579.97" fill="none" stroke="#787878" stroke-width="1.1"/>
<rect x="571.47" y="80.5" width="12.6" height="14.7" fill="#d9d9d9" stroke="#383838" stroke-width="1.15"/>
<path d="M571.47 90.8H584.07" stroke="#383838" stroke-width="1.1"/>
<g fill="none" stroke="#141414" stroke-width="1.2"><circle cx="581.17" cy="56.3" r="1.75"/><circle cx="581.17" cy="78.9" r="1.75"/><circle cx="581.17" cy="83.6" r="1.75"/><circle cx="581.17" cy="88.7" r="1.75"/><circle cx="581.17" cy="89.8" r="1.75"/><circle cx="581.17" cy="91.3" r="1.75"/><circle cx="581.17" cy="93.2" r="1.75"/><circle cx="581.17" cy="95.8" r="1.75"/><circle cx="581.17" cy="97.7" r="1.75"/><circle cx="581.17" cy="99.6" r="1.75"/></g>
<path d="M625.2 29.1V135H700.58" fill="none" stroke="#3c3c3c" stroke-width="1.3"/>
<path d="M622 29.6H625.2M622 55.95H625.2M622 82.3H625.2M622 108.65H625.2M622 135H625.2M643.92 135V132M662.64 135V132M681.36 135V132M700.08 135V132" fill="none" stroke="#3c3c3c" stroke-width="1.1"/>
<text x="613.6" y="32.15" font-family="Liberation Sans, sans-serif" font-size="9" fill="#101010" text-anchor="end" textLength="10.2" lengthAdjust="spacingAndGlyphs" stroke="#101010" stroke-width="0.45">70</text>
<text x="613.6" y="58.5" font-family="Liberation Sans, sans-serif" font-size="9" fill="#101010" text-anchor="end" textLength="10.2" lengthAdjust="spacingAndGlyphs" stroke="#101010" stroke-width="0.45">60</text>
<text x="613.6" y="84.85" font-family="Liberation Sans, sans-serif" font-size="9" fill="#101010" text-anchor="end" textLength="10.2" lengthAdjust="spacingAndGlyphs" stroke="#101010" stroke-width="0.45">50</text>
<text x="613.6" y="111.2" font-family="Liberation Sans, sans-serif" font-size="9" fill="#101010" text-anchor="end" textLength="10.2" lengthAdjust="spacingAndGlyphs" stroke="#101010" stroke-width="0.45">40</text>
<text x="613.6" y="137.55" font-family="Liberation Sans, sans-serif" font-size="9" fill="#101010" text-anchor="end" textLength="10.2" lengthAdjust="spacingAndGlyphs" stroke="#101010" stroke-width="0.45">30</text>
<text x="626.61" y="151.2" font-family="Liberation Sans, sans-serif" font-size="9.2" fill="#101010" textLength="15" lengthAdjust="spacingAndGlyphs" stroke="#101010" stroke-width="0.45">SED</text>
<text x="648.38" y="151.2" font-family="Liberation Sans, sans-serif" font-size="9.2" fill="#101010" textLength="8.9" lengthAdjust="spacingAndGlyphs" stroke="#101010" stroke-width="0.45">ET</text>
<text x="663.9" y="151.2" font-family="Liberation Sans, sans-serif" font-size="9.2" fill="#101010" textLength="15.3" lengthAdjust="spacingAndGlyphs" stroke="#101010" stroke-width="0.45">HYP</text>
<text x="683.47" y="151.2" font-family="Liberation Sans, sans-serif" font-size="9.2" fill="#101010" textLength="12.8" lengthAdjust="spacingAndGlyphs" stroke="#101010" stroke-width="0.45">INT</text>
<text x="620.85" y="22.9" font-family="Liberation Sans, sans-serif" font-size="11.5" fill="#101010" textLength="12.2" lengthAdjust="spacingAndGlyphs" stroke="#101010" stroke-width="0.45">LV</text>
<path d="M634.01 63.5V82.3M634.01 94.3V110.2M631.81 63.5H636.21M631.81 110.2H636.21" fill="none" stroke="#787878" stroke-width="1.1"/>
<rect x="627.71" y="82.3" width="12.6" height="12" fill="#d9d9d9" stroke="#383838" stroke-width="1.15"/>
<path d="M627.71 89.1H640.31" stroke="#383838" stroke-width="1.1"/>
<g fill="none" stroke="#141414" stroke-width="1.2"><circle cx="637.51" cy="52.8" r="1.75"/><circle cx="637.51" cy="75.9" r="1.75"/><circle cx="637.51" cy="81.5" r="1.75"/><circle cx="637.51" cy="86.2" r="1.75"/><circle cx="637.51" cy="88.6" r="1.75"/><circle cx="637.51" cy="90.4" r="1.75"/><circle cx="637.51" cy="92.7" r="1.75"/><circle cx="637.51" cy="95.5" r="1.75"/><circle cx="637.51" cy="100.9" r="1.75"/><circle cx="637.51" cy="117.8" r="1.75"/></g>
<path d="M652.73 58.8V63.9M652.73 77.4V81.6M650.53 58.8H654.93M650.53 81.6H654.93" fill="none" stroke="#787878" stroke-width="1.1"/>
<rect x="646.43" y="63.9" width="12.6" height="13.5" fill="#d9d9d9" stroke="#383838" stroke-width="1.15"/>
<path d="M646.43 68.9H659.03" stroke="#383838" stroke-width="1.1"/>
<g fill="none" stroke="#141414" stroke-width="1.2"><circle cx="656.23" cy="55.4" r="1.75"/><circle cx="656.23" cy="63.5" r="1.75"/><circle cx="656.23" cy="68.3" r="1.75"/><circle cx="656.23" cy="71.5" r="1.75"/><circle cx="656.23" cy="74.6" r="1.75"/><circle cx="656.23" cy="77.8" r="1.75"/><circle cx="656.23" cy="79.7" r="1.75"/><circle cx="656.23" cy="84.5" r="1.75"/></g>
<path d="M671.45 67.7V69.8M671.45 80.4V89.3M669.25 67.7H673.65M669.25 89.3H673.65" fill="none" stroke="#787878" stroke-width="1.1"/>
<rect x="665.15" y="69.8" width="12.6" height="10.6" fill="#d9d9d9" stroke="#383838" stroke-width="1.15"/>
<path d="M665.15 78.2H677.75" stroke="#383838" stroke-width="1.1"/>
<g fill="none" stroke="#141414" stroke-width="1.2"><circle cx="674.95" cy="67.3" r="1.75"/><circle cx="674.95" cy="68.9" r="1.75"/><circle cx="674.95" cy="70.8" r="1.75"/><circle cx="674.95" cy="73.4" r="1.75"/><circle cx="674.95" cy="76.6" r="1.75"/><circle cx="674.95" cy="78.5" r="1.75"/><circle cx="674.95" cy="81" r="1.75"/><circle cx="674.95" cy="84.6" r="1.75"/><circle cx="674.95" cy="94.6" r="1.75"/></g>
<path d="M690.17 71.5V83.5M690.17 94.3V99.3M687.97 71.5H692.37M687.97 99.3H692.37" fill="none" stroke="#787878" stroke-width="1.1"/>
<rect x="683.87" y="83.5" width="12.6" height="10.8" fill="#d9d9d9" stroke="#383838" stroke-width="1.15"/>
<path d="M683.87 91.4H696.47" stroke="#383838" stroke-width="1.1"/>
<g fill="none" stroke="#141414" stroke-width="1.2"><circle cx="693.67" cy="67.7" r="1.75"/><circle cx="693.67" cy="77.8" r="1.75"/><circle cx="693.67" cy="81.6" r="1.75"/><circle cx="693.67" cy="89.3" r="1.75"/><circle cx="693.67" cy="89.8" r="1.75"/><circle cx="693.67" cy="92" r="1.75"/><circle cx="693.67" cy="94" r="1.75"/><circle cx="693.67" cy="99" r="1.75"/><circle cx="693.67" cy="99.6" r="1.75"/></g>
<path d="M651.7 33V29.6Q651.7 28.3 653 28.3H688.8Q690.1 28.3 690.1 29.6V33" fill="none" stroke="#4a4a4a" stroke-width="0.9"/>
<path d="M631.8 42.6V39.4Q631.8 38.1 633.1 38.1H669.2Q670.5 38.1 670.5 39.4V42.6" fill="none" stroke="#4a4a4a" stroke-width="0.9"/>
<path d="M633.2 51.8V49.7Q633.2 48.4 634.5 48.4H651.3Q652.6 48.4 652.6 49.7V51.8" fill="none" stroke="#4a4a4a" stroke-width="0.9"/>
<path d="M671.2 53.8V51.6Q671.2 50.3 672.5 50.3H688.8Q690.1 50.3 690.1 51.6V53.8" fill="none" stroke="#4a4a4a" stroke-width="0.9"/>
<text x="668.9" y="24.1" font-family="Liberation Serif, serif" font-size="13" fill="#101010" textLength="7.4" lengthAdjust="spacingAndGlyphs" stroke="#1a1a1a" stroke-width="0.3">φ</text>
<text x="639.8" y="34.3" font-family="Liberation Serif, serif" font-size="13" fill="#101010" textLength="7.4" lengthAdjust="spacingAndGlyphs" stroke="#1a1a1a" stroke-width="0.3">φ</text>
<text x="638.9" y="45.3" font-family="Liberation Serif, serif" font-size="13" fill="#101010" textLength="7.4" lengthAdjust="spacingAndGlyphs" stroke="#1a1a1a" stroke-width="0.3">φ</text>
<text x="675.8" y="48.5" font-family="DejaVu Sans, sans-serif" font-size="7.2" fill="#101010" textLength="5" lengthAdjust="spacingAndGlyphs" stroke="#1a1a1a" stroke-width="0.55" stroke-linejoin="miter">✶</text>
<text x="682.1" y="46.3" font-family="Liberation Serif, serif" font-size="13" fill="#101010" textLength="7.4" lengthAdjust="spacingAndGlyphs" stroke="#1a1a1a" stroke-width="0.3">φ</text>
<path d="M59.3 198.1V303.15H134.68" fill="none" stroke="#3c3c3c" stroke-width="1.3"/>
<path d="M56.1 198.6H59.3M56.1 224.74H59.3M56.1 250.88H59.3M56.1 277.01H59.3M56.1 303.15H59.3M78.02 303.15V300.15M96.74 303.15V300.15M115.46 303.15V300.15M134.18 303.15V300.15" fill="none" stroke="#3c3c3c" stroke-width="1.1"/>
<text x="47.7" y="201.15" font-family="Liberation Sans, sans-serif" font-size="9" fill="#101010" text-anchor="end" textLength="10.2" lengthAdjust="spacingAndGlyphs" stroke="#101010" stroke-width="0.45">50</text>
<text x="47.7" y="227.29" font-family="Liberation Sans, sans-serif" font-size="9" fill="#101010" text-anchor="end" textLength="10.2" lengthAdjust="spacingAndGlyphs" stroke="#101010" stroke-width="0.45">40</text>
<text x="47.7" y="253.43" font-family="Liberation Sans, sans-serif" font-size="9" fill="#101010" text-anchor="end" textLength="10.2" lengthAdjust="spacingAndGlyphs" stroke="#101010" stroke-width="0.45">30</text>
<text x="47.7" y="279.56" font-family="Liberation Sans, sans-serif" font-size="9" fill="#101010" text-anchor="end" textLength="10.2" lengthAdjust="spacingAndGlyphs" stroke="#101010" stroke-width="0.45">20</text>
<text x="47.7" y="305.7" font-family="Liberation Sans, sans-serif" font-size="9" fill="#101010" text-anchor="end" textLength="10.2" lengthAdjust="spacingAndGlyphs" stroke="#101010" stroke-width="0.45">10</text>
<text x="60.71" y="319.55" font-family="Liberation Sans, sans-serif" font-size="9.2" fill="#101010" textLength="15" lengthAdjust="spacingAndGlyphs" stroke="#101010" stroke-width="0.45">SED</text>
<text x="82.48" y="319.55" font-family="Liberation Sans, sans-serif" font-size="9.2" fill="#101010" textLength="8.9" lengthAdjust="spacingAndGlyphs" stroke="#101010" stroke-width="0.45">ET</text>
<text x="98" y="319.55" font-family="Liberation Sans, sans-serif" font-size="9.2" fill="#101010" textLength="15.3" lengthAdjust="spacingAndGlyphs" stroke="#101010" stroke-width="0.45">HYP</text>
<text x="117.57" y="319.55" font-family="Liberation Sans, sans-serif" font-size="9.2" fill="#101010" textLength="12.8" lengthAdjust="spacingAndGlyphs" stroke="#101010" stroke-width="0.45">INT</text>
<text x="49.35" y="187.9" font-family="Liberation Sans, sans-serif" font-size="11.5" fill="#101010" textLength="19.8" lengthAdjust="spacingAndGlyphs" stroke="#101010" stroke-width="0.45">SOL</text>
<path d="M68.11 257.1V258.5M68.11 266.4V273.4M65.91 257.1H70.31M65.91 273.4H70.31" fill="none" stroke="#787878" stroke-width="1.1"/>
<rect x="61.81" y="258.5" width="12.6" height="7.9" fill="#d9d9d9" stroke="#383838" stroke-width="1.15"/>
<path d="M61.81 260.3H74.41" stroke="#383838" stroke-width="1.1"/>
<g fill="none" stroke="#141414" stroke-width="1.2"><circle cx="71.91" cy="256.4" r="1.75"/><circle cx="71.91" cy="258.4" r="1.75"/><circle cx="71.91" cy="260.3" r="1.75"/><circle cx="71.91" cy="262.4" r="1.75"/><circle cx="71.91" cy="264.5" r="1.75"/><circle cx="71.91" cy="266.7" r="1.75"/><circle cx="71.91" cy="268.3" r="1.75"/><circle cx="71.91" cy="276.6" r="1.75"/></g>
<path d="M86.83 245.7V247.8M86.83 251.1V253.3M84.63 245.7H89.03M84.63 253.3H89.03" fill="none" stroke="#787878" stroke-width="1.1"/>
<rect x="80.53" y="247.8" width="12.6" height="3.3" fill="#d9d9d9" stroke="#383838" stroke-width="1.15"/>
<path d="M80.53 249.4H93.13" stroke="#383838" stroke-width="1.1"/>
<g fill="none" stroke="#141414" stroke-width="1.2"><circle cx="90.63" cy="245" r="1.75"/><circle cx="90.63" cy="247" r="1.75"/><circle cx="90.63" cy="248.8" r="1.75"/><circle cx="90.63" cy="250.7" r="1.75"/><circle cx="90.63" cy="253.3" r="1.75"/></g>
<path d="M105.55 243.8V245.3M105.55 258.5V264.8M103.35 243.8H107.75M103.35 264.8H107.75" fill="none" stroke="#787878" stroke-width="1.1"/>
<rect x="99.25" y="245.3" width="12.6" height="13.2" fill="#d9d9d9" stroke="#383838" stroke-width="1.15"/>
<path d="M99.25 252H111.85" stroke="#383838" stroke-width="1.1"/>
<g fill="none" stroke="#141414" stroke-width="1.2"><circle cx="109.35" cy="242.5" r="1.75"/><circle cx="109.35" cy="248.8" r="1.75"/><circle cx="109.35" cy="251.4" r="1.75"/><circle cx="109.35" cy="253.3" r="1.75"/><circle cx="109.35" cy="257.6" r="1.75"/><circle cx="109.35" cy="259.7" r="1.75"/><circle cx="109.35" cy="267.8" r="1.75"/></g>
<path d="M124.27 246.9V250.1M124.27 261.6V266.4M122.07 246.9H126.47M122.07 266.4H126.47" fill="none" stroke="#787878" stroke-width="1.1"/>
<rect x="117.97" y="250.1" width="12.6" height="11.5" fill="#d9d9d9" stroke="#383838" stroke-width="1.15"/>
<path d="M117.97 253.7H130.57" stroke="#383838" stroke-width="1.1"/>
<g fill="none" stroke="#141414" stroke-width="1.2"><circle cx="128.07" cy="245" r="1.75"/><circle cx="128.07" cy="248.8" r="1.75"/><circle cx="128.07" cy="251.4" r="1.75"/><circle cx="128.07" cy="253.3" r="1.75"/><circle cx="128.07" cy="256.5" r="1.75"/><circle cx="128.07" cy="259.2" r="1.75"/><circle cx="128.07" cy="261.8" r="1.75"/><circle cx="128.07" cy="264.4" r="1.75"/><circle cx="128.07" cy="267.5" r="1.75"/></g>
<path d="M69 208.6V206.5Q69 205.2 70.3 205.2H123.2Q124.5 205.2 124.5 206.5V208.6" fill="none" stroke="#4a4a4a" stroke-width="0.9"/>
<path d="M68.3 220.8V218.6Q68.3 217.3 69.6 217.3H104.2Q105.5 217.3 105.5 218.6V220.8" fill="none" stroke="#4a4a4a" stroke-width="0.9"/>
<path d="M68.3 233.4V231.4Q68.3 230.1 69.6 230.1H85.3Q86.6 230.1 86.6 231.4V233.4" fill="none" stroke="#4a4a4a" stroke-width="0.9"/>
<path d="M85.5 272.8V275Q85.5 276.3 86.8 276.3H123.2Q124.5 276.3 124.5 275V272.8" fill="none" stroke="#4a4a4a" stroke-width="0.9"/>
<text x="84.1" y="202.1" font-family="DejaVu Sans, sans-serif" font-size="7.8" fill="#101010" stroke="#1a1a1a" stroke-width="0.22">✣</text>
<text x="91.6" y="201.6" font-family="Liberation Serif, serif" font-size="13" fill="#101010" textLength="7.4" lengthAdjust="spacingAndGlyphs" stroke="#1a1a1a" stroke-width="0.3">φ</text>
<text x="101.65" y="202.4" font-family="Liberation Serif, serif" font-size="13" fill="#101010" stroke="#1a1a1a" stroke-width="0.12">z</text>
<text x="80.7" y="215.7" font-family="DejaVu Sans, sans-serif" font-size="7.2" fill="#101010" textLength="5" lengthAdjust="spacingAndGlyphs" stroke="#1a1a1a" stroke-width="0.55" stroke-linejoin="miter">✶</text>
<text x="87.2" y="215.5" font-family="Liberation Serif, serif" font-size="13" fill="#101010" textLength="7.4" lengthAdjust="spacingAndGlyphs" stroke="#1a1a1a" stroke-width="0.3">φ</text>
<text x="96.55" y="216.3" font-family="Liberation Serif, serif" font-size="13" fill="#101010" stroke="#1a1a1a" stroke-width="0.12">z</text>
<text x="69.1" y="227.5" font-family="DejaVu Sans, sans-serif" font-size="7.7" fill="#101010" stroke="#1a1a1a" stroke-width="0.75" stroke-linejoin="miter">✦</text>
<text x="75.7" y="226.7" font-family="Liberation Serif, serif" font-size="13" fill="#101010" textLength="7.4" lengthAdjust="spacingAndGlyphs" stroke="#1a1a1a" stroke-width="0.3">φ</text>
<text x="85.15" y="227.5" font-family="Liberation Serif, serif" font-size="13" fill="#101010" stroke="#1a1a1a" stroke-width="0.12">z</text>
<text x="101.8" y="285.3" font-family="Liberation Serif, serif" font-size="13" fill="#101010" textLength="7.4" lengthAdjust="spacingAndGlyphs" stroke="#1a1a1a" stroke-width="0.3">φ</text>
<path d="M174.5 197.6V303H249.88" fill="none" stroke="#3c3c3c" stroke-width="1.3"/>
<path d="M171.3 198.1H174.5M171.3 213.09H174.5M171.3 228.07H174.5M171.3 243.06H174.5M171.3 258.04H174.5M171.3 273.03H174.5M171.3 288.01H174.5M171.3 303H174.5M193.22 303V300M211.94 303V300M230.66 303V300M249.38 303V300" fill="none" stroke="#3c3c3c" stroke-width="1.1"/>
<text x="162.9" y="200.65" font-family="Liberation Sans, sans-serif" font-size="9" fill="#101010" text-anchor="end" textLength="10.2" lengthAdjust="spacingAndGlyphs" stroke="#101010" stroke-width="0.45">50</text>
<text x="162.9" y="215.64" font-family="Liberation Sans, sans-serif" font-size="9" fill="#101010" text-anchor="end" textLength="10.2" lengthAdjust="spacingAndGlyphs" stroke="#101010" stroke-width="0.45">45</text>
<text x="162.9" y="230.62" font-family="Liberation Sans, sans-serif" font-size="9" fill="#101010" text-anchor="end" textLength="10.2" lengthAdjust="spacingAndGlyphs" stroke="#101010" stroke-width="0.45">40</text>
<text x="162.9" y="245.61" font-family="Liberation Sans, sans-serif" font-size="9" fill="#101010" text-anchor="end" textLength="10.2" lengthAdjust="spacingAndGlyphs" stroke="#101010" stroke-width="0.45">35</text>
<text x="162.9" y="260.59" font-family="Liberation Sans, sans-serif" font-size="9" fill="#101010" text-anchor="end" textLength="10.2" lengthAdjust="spacingAndGlyphs" stroke="#101010" stroke-width="0.45">30</text>
<text x="162.9" y="275.58" font-family="Liberation Sans, sans-serif" font-size="9" fill="#101010" text-anchor="end" textLength="10.2" lengthAdjust="spacingAndGlyphs" stroke="#101010" stroke-width="0.45">25</text>
<text x="162.9" y="290.56" font-family="Liberation Sans, sans-serif" font-size="9" fill="#101010" text-anchor="end" textLength="10.2" lengthAdjust="spacingAndGlyphs" stroke="#101010" stroke-width="0.45">20</text>
<text x="162.9" y="305.55" font-family="Liberation Sans, sans-serif" font-size="9" fill="#101010" text-anchor="end" textLength="10.2" lengthAdjust="spacingAndGlyphs" stroke="#101010" stroke-width="0.45">15</text>
<text x="175.91" y="319.4" font-family="Liberation Sans, sans-serif" font-size="9.2" fill="#101010" textLength="15" lengthAdjust="spacingAndGlyphs" stroke="#101010" stroke-width="0.45">SED</text>
<text x="197.68" y="319.4" font-family="Liberation Sans, sans-serif" font-size="9.2" fill="#101010" textLength="8.9" lengthAdjust="spacingAndGlyphs" stroke="#101010" stroke-width="0.45">ET</text>
<text x="213.2" y="319.4" font-family="Liberation Sans, sans-serif" font-size="9.2" fill="#101010" textLength="15.3" lengthAdjust="spacingAndGlyphs" stroke="#101010" stroke-width="0.45">HYP</text>
<text x="232.77" y="319.4" font-family="Liberation Sans, sans-serif" font-size="9.2" fill="#101010" textLength="12.8" lengthAdjust="spacingAndGlyphs" stroke="#101010" stroke-width="0.45">INT</text>
<text x="169.85" y="188.2" font-family="Liberation Sans, sans-serif" font-size="11.5" fill="#101010" textLength="11.8" lengthAdjust="spacingAndGlyphs" stroke="#101010" stroke-width="0.45">Gr</text>
<path d="M183.31 263.6V267.3M183.31 272.5V278.2M181.11 263.6H185.51M181.11 278.2H185.51" fill="none" stroke="#787878" stroke-width="1.1"/>
<rect x="177.01" y="267.3" width="12.6" height="5.2" fill="#d9d9d9" stroke="#383838" stroke-width="1.15"/>
<path d="M177.01 269.8H189.61" stroke="#383838" stroke-width="1.1"/>
<g fill="none" stroke="#141414" stroke-width="1.2"><circle cx="187.11" cy="262" r="1.75"/><circle cx="187.11" cy="266.4" r="1.75"/><circle cx="187.11" cy="268.3" r="1.75"/><circle cx="187.11" cy="270.2" r="1.75"/><circle cx="187.11" cy="272.1" r="1.75"/><circle cx="187.11" cy="274" r="1.75"/><circle cx="187.11" cy="282.9" r="1.75"/></g>
<path d="M202.03 234.4V239.1M202.03 258.7V265.2M199.83 234.4H204.23M199.83 265.2H204.23" fill="none" stroke="#787878" stroke-width="1.1"/>
<rect x="195.73" y="239.1" width="12.6" height="19.6" fill="#d9d9d9" stroke="#383838" stroke-width="1.15"/>
<path d="M195.73 249.3H208.33" stroke="#383838" stroke-width="1.1"/>
<g fill="none" stroke="#141414" stroke-width="1.2"><circle cx="205.83" cy="231.5" r="1.75"/><circle cx="205.83" cy="237.9" r="1.75"/><circle cx="205.83" cy="241" r="1.75"/><circle cx="205.83" cy="248" r="1.75"/><circle cx="205.83" cy="251.8" r="1.75"/><circle cx="205.83" cy="256.5" r="1.75"/><circle cx="205.83" cy="259.8" r="1.75"/><circle cx="205.83" cy="269.6" r="1.75"/></g>
<path d="M220.75 243.3V249.3M220.75 260.8V263.6M218.55 243.3H222.95M218.55 263.6H222.95" fill="none" stroke="#787878" stroke-width="1.1"/>
<rect x="214.45" y="249.3" width="12.6" height="11.5" fill="#d9d9d9" stroke="#383838" stroke-width="1.15"/>
<path d="M214.45 256.1H227.05" stroke="#383838" stroke-width="1.1"/>
<g fill="none" stroke="#141414" stroke-width="1.2"><circle cx="224.55" cy="242" r="1.75"/><circle cx="224.55" cy="244.8" r="1.75"/><circle cx="224.55" cy="248" r="1.75"/><circle cx="224.55" cy="255.4" r="1.75"/><circle cx="224.55" cy="256" r="1.75"/><circle cx="224.55" cy="259.4" r="1.75"/><circle cx="224.55" cy="262.2" r="1.75"/><circle cx="224.55" cy="264.1" r="1.75"/></g>
<path d="M239.47 242.3V249.3M239.47 263.2V265.8M237.27 242.3H241.67M237.27 265.8H241.67" fill="none" stroke="#787878" stroke-width="1.1"/>
<rect x="233.17" y="249.3" width="12.6" height="13.9" fill="#d9d9d9" stroke="#383838" stroke-width="1.15"/>
<path d="M233.17 256.9H245.77" stroke="#383838" stroke-width="1.1"/>
<g fill="none" stroke="#141414" stroke-width="1.2"><circle cx="243.27" cy="242.6" r="1.75"/><circle cx="243.27" cy="248" r="1.75"/><circle cx="243.27" cy="255.6" r="1.75"/><circle cx="243.27" cy="258.9" r="1.75"/><circle cx="243.27" cy="262.2" r="1.75"/><circle cx="243.27" cy="263.9" r="1.75"/><circle cx="243.27" cy="267.7" r="1.75"/></g>
<path d="M184.6 205.1V202.4Q184.6 201.1 185.9 201.1H238.2Q239.5 201.1 239.5 202.4V205.1" fill="none" stroke="#4a4a4a" stroke-width="0.9"/>
<path d="M184.6 217.3V215Q184.6 213.7 185.9 213.7H219.2Q220.5 213.7 220.5 215V217.3" fill="none" stroke="#4a4a4a" stroke-width="0.9"/>
<path d="M184.6 229.4V226.8Q184.6 225.5 185.9 225.5H200.9Q202.2 225.5 202.2 226.8V229.4" fill="none" stroke="#4a4a4a" stroke-width="0.9"/>
<path d="M204.2 229.4V227Q204.2 225.7 205.5 225.7H238.2Q239.5 225.7 239.5 227V229.4" fill="none" stroke="#4a4a4a" stroke-width="0.9"/>
<text x="202.2" y="199.9" font-family="DejaVu Sans, sans-serif" font-size="7.7" fill="#101010" stroke="#1a1a1a" stroke-width="0.75" stroke-linejoin="miter">✦</text>
<text x="209.8" y="197" font-family="Liberation Serif, serif" font-size="13" fill="#101010" textLength="7.4" lengthAdjust="spacingAndGlyphs" stroke="#1a1a1a" stroke-width="0.3">φ</text>
<text x="219.15" y="200.9" font-family="Liberation Serif, serif" font-size="13" fill="#101010" stroke="#1a1a1a" stroke-width="0.12">z</text>
<text x="194.9" y="211.3" font-family="DejaVu Sans, sans-serif" font-size="7.7" fill="#101010" stroke="#1a1a1a" stroke-width="0.75" stroke-linejoin="miter">✦</text>
<text x="202.5" y="210.7" font-family="Liberation Serif, serif" font-size="13" fill="#101010" textLength="7.4" lengthAdjust="spacingAndGlyphs" stroke="#1a1a1a" stroke-width="0.3">φ</text>
<text x="212.15" y="212.1" font-family="Liberation Serif, serif" font-size="13" fill="#101010" stroke="#1a1a1a" stroke-width="0.12">z</text>
<text x="184.1" y="224.2" font-family="DejaVu Sans, sans-serif" font-size="7.7" fill="#101010" stroke="#1a1a1a" stroke-width="0.75" stroke-linejoin="miter">✦</text>
<text x="190.7" y="222.4" font-family="Liberation Serif, serif" font-size="13" fill="#101010" textLength="7.4" lengthAdjust="spacingAndGlyphs" stroke="#1a1a1a" stroke-width="0.3">φ</text>
<text x="199.05" y="224.4" font-family="Liberation Serif, serif" font-size="13" fill="#101010" stroke="#1a1a1a" stroke-width="0.12">z</text>
<text x="224.1" y="221.7" font-family="Liberation Serif, serif" font-size="13" fill="#101010" textLength="7.4" lengthAdjust="spacingAndGlyphs" stroke="#1a1a1a" stroke-width="0.3">φ</text>
<path d="M286.3 197.3V303H361.68" fill="none" stroke="#3c3c3c" stroke-width="1.3"/>
<path d="M283.1 197.8H286.3M283.1 224.1H286.3M283.1 250.4H286.3M283.1 276.7H286.3M283.1 303H286.3M305.02 303V300M323.74 303V300M342.46 303V300M361.18 303V300" fill="none" stroke="#3c3c3c" stroke-width="1.1"/>
<text x="274.7" y="200.35" font-family="Liberation Sans, sans-serif" font-size="9" fill="#101010" text-anchor="end" textLength="10.2" lengthAdjust="spacingAndGlyphs" stroke="#101010" stroke-width="0.45">12</text>
<text x="274.7" y="226.65" font-family="Liberation Sans, sans-serif" font-size="9" fill="#101010" text-anchor="end" textLength="10.2" lengthAdjust="spacingAndGlyphs" stroke="#101010" stroke-width="0.45">10</text>
<text x="274.7" y="252.95" font-family="Liberation Sans, sans-serif" font-size="9" fill="#101010" text-anchor="end" textLength="5.2" lengthAdjust="spacingAndGlyphs" stroke="#101010" stroke-width="0.45">8</text>
<text x="274.7" y="279.25" font-family="Liberation Sans, sans-serif" font-size="9" fill="#101010" text-anchor="end" textLength="5.2" lengthAdjust="spacingAndGlyphs" stroke="#101010" stroke-width="0.45">6</text>
<text x="274.7" y="305.55" font-family="Liberation Sans, sans-serif" font-size="9" fill="#101010" text-anchor="end" textLength="5.2" lengthAdjust="spacingAndGlyphs" stroke="#101010" stroke-width="0.45">4</text>
<text x="287.71" y="319.4" font-family="Liberation Sans, sans-serif" font-size="9.2" fill="#101010" textLength="15" lengthAdjust="spacingAndGlyphs" stroke="#101010" stroke-width="0.45">SED</text>
<text x="309.48" y="319.4" font-family="Liberation Sans, sans-serif" font-size="9.2" fill="#101010" textLength="8.9" lengthAdjust="spacingAndGlyphs" stroke="#101010" stroke-width="0.45">ET</text>
<text x="325" y="319.4" font-family="Liberation Sans, sans-serif" font-size="9.2" fill="#101010" textLength="15.3" lengthAdjust="spacingAndGlyphs" stroke="#101010" stroke-width="0.45">HYP</text>
<text x="344.57" y="319.4" font-family="Liberation Sans, sans-serif" font-size="9.2" fill="#101010" textLength="12.8" lengthAdjust="spacingAndGlyphs" stroke="#101010" stroke-width="0.45">INT</text>
<text x="280.15" y="188.2" font-family="Liberation Sans, sans-serif" font-size="11.5" fill="#101010" textLength="17" lengthAdjust="spacingAndGlyphs" stroke="#101010" stroke-width="0.45">Gw</text>
<path d="M294.91 251.4V257.1M294.91 263.9V273.4M292.71 251.4H297.11M292.71 273.4H297.11" fill="none" stroke="#787878" stroke-width="1.1"/>
<rect x="288.61" y="257.1" width="12.6" height="6.8" fill="#d9d9d9" stroke="#383838" stroke-width="1.15"/>
<path d="M288.61 260.2H301.21" stroke="#383838" stroke-width="1.1"/>
<g fill="none" stroke="#141414" stroke-width="1.2"><circle cx="298.86" cy="251.4" r="1.75"/><circle cx="298.86" cy="253.1" r="1.75"/><circle cx="298.86" cy="258.4" r="1.75"/><circle cx="298.86" cy="260.3" r="1.75"/><circle cx="298.86" cy="262.3" r="1.75"/><circle cx="298.86" cy="263.4" r="1.75"/><circle cx="298.86" cy="270.9" r="1.75"/><circle cx="298.86" cy="275.3" r="1.75"/></g>
<path d="M314.13 226.4V246.1M314.13 264.5V275.3M311.93 226.4H316.33M311.93 275.3H316.33" fill="none" stroke="#787878" stroke-width="1.1"/>
<rect x="307.83" y="246.1" width="12.6" height="18.4" fill="#d9d9d9" stroke="#383838" stroke-width="1.15"/>
<path d="M307.83 258.6H320.43" stroke="#383838" stroke-width="1.1"/>
<g fill="none" stroke="#141414" stroke-width="1.2"><circle cx="318.08" cy="215.3" r="1.75"/><circle cx="318.08" cy="241.3" r="1.75"/><circle cx="318.08" cy="246.1" r="1.75"/><circle cx="318.08" cy="247.4" r="1.75"/><circle cx="318.08" cy="257.2" r="1.75"/><circle cx="318.08" cy="260.3" r="1.75"/><circle cx="318.08" cy="262.6" r="1.75"/><circle cx="318.08" cy="266.4" r="1.75"/><circle cx="318.08" cy="270.2" r="1.75"/><circle cx="318.08" cy="280.8" r="1.75"/></g>
<path d="M332.95 248.3V259.6M332.95 270.5V271.5M330.75 248.3H335.15M330.75 271.5H335.15" fill="none" stroke="#787878" stroke-width="1.1"/>
<rect x="326.65" y="259.6" width="12.6" height="10.9" fill="#d9d9d9" stroke="#383838" stroke-width="1.15"/>
<path d="M326.65 262.7H339.25" stroke="#383838" stroke-width="1.1"/>
<g fill="none" stroke="#141414" stroke-width="1.2"><circle cx="336.9" cy="245.7" r="1.75"/><circle cx="336.9" cy="251.8" r="1.75"/><circle cx="336.9" cy="259" r="1.75"/><circle cx="336.9" cy="261" r="1.75"/><circle cx="336.9" cy="263" r="1.75"/><circle cx="336.9" cy="270" r="1.75"/><circle cx="336.9" cy="270.5" r="1.75"/><circle cx="336.9" cy="272.1" r="1.75"/></g>
<path d="M352.17 236.3V244.2M352.17 254.1V261.1M349.97 236.3H354.37M349.97 261.1H354.37" fill="none" stroke="#787878" stroke-width="1.1"/>
<rect x="345.87" y="244.2" width="12.6" height="9.9" fill="#d9d9d9" stroke="#383838" stroke-width="1.15"/>
<path d="M345.87 249.3H358.47" stroke="#383838" stroke-width="1.1"/>
<g fill="none" stroke="#141414" stroke-width="1.2"><circle cx="356.12" cy="233.8" r="1.75"/><circle cx="356.12" cy="240.4" r="1.75"/><circle cx="356.12" cy="244.8" r="1.75"/><circle cx="356.12" cy="246.7" r="1.75"/><circle cx="356.12" cy="249.3" r="1.75"/><circle cx="356.12" cy="252.5" r="1.75"/><circle cx="356.12" cy="255.2" r="1.75"/><circle cx="356.12" cy="256.3" r="1.75"/><circle cx="356.12" cy="266.2" r="1.75"/></g>
<path d="M295.5 204.4V202.2Q295.5 200.9 296.8 200.9H350Q351.3 200.9 351.3 202.2V204.4" fill="none" stroke="#4a4a4a" stroke-width="0.9"/>
<path d="M332.5 228V225.7Q332.5 224.4 333.8 224.4H349.9Q351.2 224.4 351.2 225.7V228" fill="none" stroke="#4a4a4a" stroke-width="0.9"/>
<path d="M313.6 282.7V284.8Q313.6 286.1 314.9 286.1H332Q333.3 286.1 333.3 284.8V282.7" fill="none" stroke="#4a4a4a" stroke-width="0.9"/>
<text x="319.2" y="199" font-family="DejaVu Sans, sans-serif" font-size="7.2" fill="#101010" textLength="5" lengthAdjust="spacingAndGlyphs" stroke="#1a1a1a" stroke-width="0.55" stroke-linejoin="miter">✶</text>
<text x="327" y="197.9" font-family="Liberation Serif, serif" font-size="13" fill="#101010" textLength="7.4" lengthAdjust="spacingAndGlyphs" stroke="#1a1a1a" stroke-width="0.3">φ</text>
<text x="336.4" y="222.6" font-family="DejaVu Sans, sans-serif" font-size="7.8" fill="#101010" stroke="#1a1a1a" stroke-width="0.22">✣</text>
<text x="343.4" y="221.3" font-family="Liberation Serif, serif" font-size="13" fill="#101010" textLength="7.4" lengthAdjust="spacingAndGlyphs" stroke="#1a1a1a" stroke-width="0.3">φ</text>
<text x="320.2" y="294.8" font-family="Liberation Serif, serif" font-size="13" fill="#101010" textLength="7.4" lengthAdjust="spacingAndGlyphs" stroke="#1a1a1a" stroke-width="0.3">φ</text>
<path d="M401.2 197.4V303H476.58" fill="none" stroke="#3c3c3c" stroke-width="1.3"/>
<path d="M398 197.9H401.2M398 232.93H401.2M398 267.97H401.2M398 303H401.2M419.92 303V300M438.64 303V300M457.36 303V300M476.08 303V300" fill="none" stroke="#3c3c3c" stroke-width="1.1"/>
<text x="389.6" y="200.45" font-family="Liberation Sans, sans-serif" font-size="9" fill="#101010" text-anchor="end" textLength="10.2" lengthAdjust="spacingAndGlyphs" stroke="#101010" stroke-width="0.45">45</text>
<text x="389.6" y="235.48" font-family="Liberation Sans, sans-serif" font-size="9" fill="#101010" text-anchor="end" textLength="10.2" lengthAdjust="spacingAndGlyphs" stroke="#101010" stroke-width="0.45">35</text>
<text x="389.6" y="270.52" font-family="Liberation Sans, sans-serif" font-size="9" fill="#101010" text-anchor="end" textLength="10.2" lengthAdjust="spacingAndGlyphs" stroke="#101010" stroke-width="0.45">25</text>
<text x="389.6" y="305.55" font-family="Liberation Sans, sans-serif" font-size="9" fill="#101010" text-anchor="end" textLength="10.2" lengthAdjust="spacingAndGlyphs" stroke="#101010" stroke-width="0.45">15</text>
<text x="402.61" y="319.4" font-family="Liberation Sans, sans-serif" font-size="9.2" fill="#101010" textLength="15" lengthAdjust="spacingAndGlyphs" stroke="#101010" stroke-width="0.45">SED</text>
<text x="424.38" y="319.4" font-family="Liberation Sans, sans-serif" font-size="9.2" fill="#101010" textLength="8.9" lengthAdjust="spacingAndGlyphs" stroke="#101010" stroke-width="0.45">ET</text>
<text x="439.9" y="319.4" font-family="Liberation Sans, sans-serif" font-size="9.2" fill="#101010" textLength="15.3" lengthAdjust="spacingAndGlyphs" stroke="#101010" stroke-width="0.45">HYP</text>
<text x="459.47" y="319.4" font-family="Liberation Sans, sans-serif" font-size="9.2" fill="#101010" textLength="12.8" lengthAdjust="spacingAndGlyphs" stroke="#101010" stroke-width="0.45">INT</text>
<text x="394.15" y="188.6" font-family="Liberation Sans, sans-serif" font-size="11.5" fill="#101010" textLength="12.1" lengthAdjust="spacingAndGlyphs" stroke="#101010" stroke-width="0.45">PL</text>
<path d="M409.51 255.3V268.7M409.51 279.7V284.1M407.31 255.3H411.71M407.31 284.1H411.71" fill="none" stroke="#787878" stroke-width="1.1"/>
<rect x="403.21" y="268.7" width="12.6" height="11" fill="#d9d9d9" stroke="#383838" stroke-width="1.15"/>
<path d="M403.21 273.3H415.81" stroke="#383838" stroke-width="1.1"/>
<g fill="none" stroke="#141414" stroke-width="1.2"><circle cx="413.41" cy="247" r="1.75"/><circle cx="413.41" cy="267.2" r="1.75"/><circle cx="413.41" cy="269.5" r="1.75"/><circle cx="413.41" cy="272" r="1.75"/><circle cx="413.41" cy="273.6" r="1.75"/><circle cx="413.41" cy="274.2" r="1.75"/><circle cx="413.41" cy="275.9" r="1.75"/><circle cx="413.41" cy="278.4" r="1.75"/><circle cx="413.41" cy="280.9" r="1.75"/><circle cx="413.41" cy="283.5" r="1.75"/><circle cx="413.41" cy="286" r="1.75"/></g>
<path d="M428.23 244.5V246.4M428.23 256.6V262.9M426.03 244.5H430.43M426.03 262.9H430.43" fill="none" stroke="#787878" stroke-width="1.1"/>
<rect x="421.93" y="246.4" width="12.6" height="10.2" fill="#d9d9d9" stroke="#383838" stroke-width="1.15"/>
<path d="M421.93 254.6H434.53" stroke="#383838" stroke-width="1.1"/>
<g fill="none" stroke="#141414" stroke-width="1.2"><circle cx="432.13" cy="245.1" r="1.75"/><circle cx="432.13" cy="248.3" r="1.75"/><circle cx="432.13" cy="250.8" r="1.75"/><circle cx="432.13" cy="253.4" r="1.75"/><circle cx="432.13" cy="255.3" r="1.75"/><circle cx="432.13" cy="258.5" r="1.75"/><circle cx="432.13" cy="262.1" r="1.75"/><circle cx="432.13" cy="264.6" r="1.75"/></g>
<path d="M446.95 240.1V243.9M446.95 258.5V261.3M444.75 240.1H449.15M444.75 261.3H449.15" fill="none" stroke="#787878" stroke-width="1.1"/>
<rect x="440.65" y="243.9" width="12.6" height="14.6" fill="#d9d9d9" stroke="#383838" stroke-width="1.15"/>
<path d="M440.65 247.7H453.25" stroke="#383838" stroke-width="1.1"/>
<g fill="none" stroke="#141414" stroke-width="1.2"><circle cx="450.85" cy="239.2" r="1.75"/><circle cx="450.85" cy="243.9" r="1.75"/><circle cx="450.85" cy="245.8" r="1.75"/><circle cx="450.85" cy="251.5" r="1.75"/><circle cx="450.85" cy="261.2" r="1.75"/><circle cx="450.85" cy="262.4" r="1.75"/></g>
<path d="M465.67 233V233.7M465.67 248.1V266.1M463.47 233H467.87M463.47 266.1H467.87" fill="none" stroke="#787878" stroke-width="1.1"/>
<rect x="459.37" y="233.7" width="12.6" height="14.4" fill="#d9d9d9" stroke="#383838" stroke-width="1.15"/>
<path d="M459.37 236.2H471.97" stroke="#383838" stroke-width="1.1"/>
<g fill="none" stroke="#141414" stroke-width="1.2"><circle cx="469.57" cy="233.1" r="1.75"/><circle cx="469.57" cy="235" r="1.75"/><circle cx="469.57" cy="237.5" r="1.75"/><circle cx="469.57" cy="247" r="1.75"/><circle cx="469.57" cy="248.9" r="1.75"/><circle cx="469.57" cy="261.6" r="1.75"/><circle cx="469.57" cy="270.8" r="1.75"/></g>
<path d="M410.3 209.3V207.2Q410.3 205.9 411.6 205.9H465Q466.3 205.9 466.3 207.2V209.3" fill="none" stroke="#4a4a4a" stroke-width="0.9"/>
<path d="M409.3 224.9V222.7Q409.3 221.4 410.6 221.4H445.1Q446.4 221.4 446.4 222.7V224.9" fill="none" stroke="#4a4a4a" stroke-width="0.9"/>
<path d="M409.3 240.7V238.4Q409.3 237.1 410.6 237.1H428.7Q430 237.1 430 238.4V240.7" fill="none" stroke="#4a4a4a" stroke-width="0.9"/>
<path d="M428.7 269.1V271.8Q428.7 273.1 430 273.1H463.9Q465.2 273.1 465.2 271.8V269.1" fill="none" stroke="#4a4a4a" stroke-width="0.9"/>
<text x="426" y="203.5" font-family="DejaVu Sans, sans-serif" font-size="7.7" fill="#101010" stroke="#1a1a1a" stroke-width="0.75" stroke-linejoin="miter">✦</text>
<text x="432.6" y="202.1" font-family="Liberation Serif, serif" font-size="13" fill="#101010" textLength="7.4" lengthAdjust="spacingAndGlyphs" stroke="#1a1a1a" stroke-width="0.3">φ</text>
<text x="442.65" y="204.3" font-family="Liberation Serif, serif" font-size="13" fill="#101010" stroke="#1a1a1a" stroke-width="0.12">z</text>
<text x="414.3" y="218.7" font-family="DejaVu Sans, sans-serif" font-size="7.7" fill="#101010" stroke="#1a1a1a" stroke-width="0.75" stroke-linejoin="miter">✦</text>
<text x="423.7" y="217.3" font-family="Liberation Serif, serif" font-size="13" fill="#101010" textLength="7.4" lengthAdjust="spacingAndGlyphs" stroke="#1a1a1a" stroke-width="0.3">φ</text>
<text x="433.75" y="219.6" font-family="Liberation Serif, serif" font-size="13" fill="#101010" stroke="#1a1a1a" stroke-width="0.12">z</text>
<text x="412.3" y="235.4" font-family="DejaVu Sans, sans-serif" font-size="7.7" fill="#101010" stroke="#1a1a1a" stroke-width="0.75" stroke-linejoin="miter">✦</text>
<text x="418.6" y="234" font-family="Liberation Serif, serif" font-size="13" fill="#101010" textLength="7.4" lengthAdjust="spacingAndGlyphs" stroke="#1a1a1a" stroke-width="0.3">φ</text>
<text x="426.75" y="235.6" font-family="Liberation Serif, serif" font-size="13" fill="#101010" stroke="#1a1a1a" stroke-width="0.12">z</text>
<text x="442.3" y="281.8" font-family="Liberation Serif, serif" font-size="13" fill="#101010" textLength="7.4" lengthAdjust="spacingAndGlyphs" stroke="#1a1a1a" stroke-width="0.3">φ</text>
<path d="M512.8 197.4V303H588.18" fill="none" stroke="#3c3c3c" stroke-width="1.3"/>
<path d="M509.6 197.9H512.8M509.6 224.18H512.8M509.6 250.45H512.8M509.6 276.73H512.8M509.6 303H512.8M531.52 303V300M550.24 303V300M568.96 303V300M587.68 303V300" fill="none" stroke="#3c3c3c" stroke-width="1.1"/>
<text x="501.2" y="200.45" font-family="Liberation Sans, sans-serif" font-size="9" fill="#101010" text-anchor="end" textLength="10.2" lengthAdjust="spacingAndGlyphs" stroke="#101010" stroke-width="0.45">65</text>
<text x="501.2" y="226.73" font-family="Liberation Sans, sans-serif" font-size="9" fill="#101010" text-anchor="end" textLength="10.2" lengthAdjust="spacingAndGlyphs" stroke="#101010" stroke-width="0.45">55</text>
<text x="501.2" y="253" font-family="Liberation Sans, sans-serif" font-size="9" fill="#101010" text-anchor="end" textLength="10.2" lengthAdjust="spacingAndGlyphs" stroke="#101010" stroke-width="0.45">45</text>
<text x="501.2" y="279.28" font-family="Liberation Sans, sans-serif" font-size="9" fill="#101010" text-anchor="end" textLength="10.2" lengthAdjust="spacingAndGlyphs" stroke="#101010" stroke-width="0.45">35</text>
<text x="501.2" y="305.55" font-family="Liberation Sans, sans-serif" font-size="9" fill="#101010" text-anchor="end" textLength="10.2" lengthAdjust="spacingAndGlyphs" stroke="#101010" stroke-width="0.45">25</text>
<text x="514.21" y="319.4" font-family="Liberation Sans, sans-serif" font-size="9.2" fill="#101010" textLength="15" lengthAdjust="spacingAndGlyphs" stroke="#101010" stroke-width="0.45">SED</text>
<text x="535.98" y="319.4" font-family="Liberation Sans, sans-serif" font-size="9.2" fill="#101010" textLength="8.9" lengthAdjust="spacingAndGlyphs" stroke="#101010" stroke-width="0.45">ET</text>
<text x="551.5" y="319.4" font-family="Liberation Sans, sans-serif" font-size="9.2" fill="#101010" textLength="15.3" lengthAdjust="spacingAndGlyphs" stroke="#101010" stroke-width="0.45">HYP</text>
<text x="571.07" y="319.4" font-family="Liberation Sans, sans-serif" font-size="9.2" fill="#101010" textLength="12.8" lengthAdjust="spacingAndGlyphs" stroke="#101010" stroke-width="0.45">INT</text>
<text x="502.95" y="188.6" font-family="Liberation Sans, sans-serif" font-size="11.5" fill="#101010" textLength="18.2" lengthAdjust="spacingAndGlyphs" stroke="#101010" stroke-width="0.45">DIA</text>
<path d="M521.61 251.7V257M521.61 267.9V270.1M519.41 251.7H523.81M519.41 270.1H523.81" fill="none" stroke="#787878" stroke-width="1.1"/>
<rect x="515.31" y="257" width="12.6" height="10.9" fill="#d9d9d9" stroke="#383838" stroke-width="1.15"/>
<path d="M515.31 264.5H527.91" stroke="#383838" stroke-width="1.1"/>
<g fill="none" stroke="#141414" stroke-width="1.2"><circle cx="525.96" cy="250.4" r="1.75"/><circle cx="525.96" cy="254.5" r="1.75"/><circle cx="525.96" cy="262.2" r="1.75"/><circle cx="525.96" cy="264.3" r="1.75"/><circle cx="525.96" cy="266.2" r="1.75"/><circle cx="525.96" cy="268.2" r="1.75"/><circle cx="525.96" cy="270.7" r="1.75"/></g>
<path d="M540.33 250.4V258.9M540.33 264.6V271.1M538.13 250.4H542.53M538.13 271.1H542.53" fill="none" stroke="#787878" stroke-width="1.1"/>
<rect x="534.03" y="258.9" width="12.6" height="5.7" fill="#d9d9d9" stroke="#383838" stroke-width="1.15"/>
<path d="M534.03 261.6H546.63" stroke="#383838" stroke-width="1.1"/>
<g fill="none" stroke="#141414" stroke-width="1.2"><circle cx="544.68" cy="248.1" r="1.75"/><circle cx="544.68" cy="253.8" r="1.75"/><circle cx="544.68" cy="259" r="1.75"/><circle cx="544.68" cy="260.9" r="1.75"/><circle cx="544.68" cy="262.9" r="1.75"/><circle cx="544.68" cy="265" r="1.75"/><circle cx="544.68" cy="266.9" r="1.75"/><circle cx="544.68" cy="274.8" r="1.75"/></g>
<path d="M559.05 237.1V244.9M559.05 254.5V270.1M556.85 237.1H561.25M556.85 270.1H561.25" fill="none" stroke="#787878" stroke-width="1.1"/>
<rect x="552.75" y="244.9" width="12.6" height="9.6" fill="#d9d9d9" stroke="#383838" stroke-width="1.15"/>
<path d="M552.75 250.4H565.35" stroke="#383838" stroke-width="1.1"/>
<g fill="none" stroke="#141414" stroke-width="1.2"><circle cx="563.4" cy="236.4" r="1.75"/><circle cx="563.4" cy="238.2" r="1.75"/><circle cx="563.4" cy="244.3" r="1.75"/><circle cx="563.4" cy="247.5" r="1.75"/><circle cx="563.4" cy="250.6" r="1.75"/><circle cx="563.4" cy="253.8" r="1.75"/><circle cx="563.4" cy="264.2" r="1.75"/><circle cx="563.4" cy="275.1" r="1.75"/></g>
<path d="M577.77 243.7V248.7M577.77 258.4V270.4M575.57 243.7H579.97M575.57 270.4H579.97" fill="none" stroke="#787878" stroke-width="1.1"/>
<rect x="571.47" y="248.7" width="12.6" height="9.7" fill="#d9d9d9" stroke="#383838" stroke-width="1.15"/>
<path d="M571.47 254.1H584.07" stroke="#383838" stroke-width="1.1"/>
<g fill="none" stroke="#141414" stroke-width="1.2"><circle cx="582.12" cy="243.7" r="1.75"/><circle cx="582.12" cy="248.1" r="1.75"/><circle cx="582.12" cy="253.8" r="1.75"/><circle cx="582.12" cy="257" r="1.75"/><circle cx="582.12" cy="259.7" r="1.75"/><circle cx="582.12" cy="266.6" r="1.75"/><circle cx="582.12" cy="274.2" r="1.75"/></g>
<path d="M521.7 207.6V204.8Q521.7 203.5 523 203.5H576.5Q577.8 203.5 577.8 204.8V207.6" fill="none" stroke="#4a4a4a" stroke-width="0.9"/>
<path d="M521.7 221.5V219.4Q521.7 218.1 523 218.1H558.3Q559.6 218.1 559.6 219.4V221.5" fill="none" stroke="#4a4a4a" stroke-width="0.9"/>
<path d="M540.4 278.9V281.4Q540.4 282.7 541.7 282.7H558.5Q559.8 282.7 559.8 281.4V278.9" fill="none" stroke="#4a4a4a" stroke-width="0.9"/>
<text x="546.5" y="199.3" font-family="Liberation Serif, serif" font-size="13" fill="#101010" textLength="7.4" lengthAdjust="spacingAndGlyphs" stroke="#1a1a1a" stroke-width="0.3">φ</text>
<text x="530.5" y="215.7" font-family="DejaVu Sans, sans-serif" font-size="7.2" fill="#101010" textLength="5" lengthAdjust="spacingAndGlyphs" stroke="#1a1a1a" stroke-width="0.55" stroke-linejoin="miter">✶</text>
<text x="537.4" y="214.1" font-family="Liberation Serif, serif" font-size="13" fill="#101010" textLength="7.4" lengthAdjust="spacingAndGlyphs" stroke="#1a1a1a" stroke-width="0.3">φ</text>
<text x="546.35" y="216.9" font-family="Liberation Serif, serif" font-size="13" fill="#101010" stroke="#1a1a1a" stroke-width="0.12">z</text>
<text x="547.8" y="291.2" font-family="Liberation Serif, serif" font-size="13" fill="#101010" textLength="7.4" lengthAdjust="spacingAndGlyphs" stroke="#1a1a1a" stroke-width="0.3">φ</text>
<path d="M625.2 197.3V303H700.58" fill="none" stroke="#3c3c3c" stroke-width="1.3"/>
<path d="M622 197.8H625.2M622 232.87H625.2M622 267.93H625.2M622 303H625.2M643.92 303V300M662.64 303V300M681.36 303V300M700.08 303V300" fill="none" stroke="#3c3c3c" stroke-width="1.1"/>
<text x="613.6" y="200.35" font-family="Liberation Sans, sans-serif" font-size="9" fill="#101010" text-anchor="end" textLength="15.2" lengthAdjust="spacingAndGlyphs" stroke="#101010" stroke-width="0.45">100</text>
<text x="613.6" y="235.42" font-family="Liberation Sans, sans-serif" font-size="9" fill="#101010" text-anchor="end" textLength="10.2" lengthAdjust="spacingAndGlyphs" stroke="#101010" stroke-width="0.45">80</text>
<text x="613.6" y="270.48" font-family="Liberation Sans, sans-serif" font-size="9" fill="#101010" text-anchor="end" textLength="10.2" lengthAdjust="spacingAndGlyphs" stroke="#101010" stroke-width="0.45">60</text>
<text x="613.6" y="305.55" font-family="Liberation Sans, sans-serif" font-size="9" fill="#101010" text-anchor="end" textLength="10.2" lengthAdjust="spacingAndGlyphs" stroke="#101010" stroke-width="0.45">40</text>
<text x="626.61" y="319.4" font-family="Liberation Sans, sans-serif" font-size="9.2" fill="#101010" textLength="15" lengthAdjust="spacingAndGlyphs" stroke="#101010" stroke-width="0.45">SED</text>
<text x="648.38" y="319.4" font-family="Liberation Sans, sans-serif" font-size="9.2" fill="#101010" textLength="8.9" lengthAdjust="spacingAndGlyphs" stroke="#101010" stroke-width="0.45">ET</text>
<text x="663.9" y="319.4" font-family="Liberation Sans, sans-serif" font-size="9.2" fill="#101010" textLength="15.3" lengthAdjust="spacingAndGlyphs" stroke="#101010" stroke-width="0.45">HYP</text>
<text x="683.47" y="319.4" font-family="Liberation Sans, sans-serif" font-size="9.2" fill="#101010" textLength="12.8" lengthAdjust="spacingAndGlyphs" stroke="#101010" stroke-width="0.45">INT</text>
<text x="619.95" y="188.2" font-family="Liberation Sans, sans-serif" font-size="11.5" fill="#101010" textLength="11.6" lengthAdjust="spacingAndGlyphs" stroke="#101010" stroke-width="0.45">LV</text>
<path d="M634.01 244.4V255.4M634.01 264.2V277M631.81 244.4H636.21M631.81 277H636.21" fill="none" stroke="#787878" stroke-width="1.1"/>
<rect x="627.71" y="255.4" width="12.6" height="8.8" fill="#d9d9d9" stroke="#383838" stroke-width="1.15"/>
<path d="M627.71 260H640.31" stroke="#383838" stroke-width="1.1"/>
<g fill="none" stroke="#141414" stroke-width="1.2"><circle cx="638.06" cy="244" r="1.75"/><circle cx="638.06" cy="245.7" r="1.75"/><circle cx="638.06" cy="255.8" r="1.75"/><circle cx="638.06" cy="259" r="1.75"/><circle cx="638.06" cy="262.8" r="1.75"/><circle cx="638.06" cy="264.6" r="1.75"/><circle cx="638.06" cy="265.8" r="1.75"/><circle cx="638.06" cy="275.5" r="1.75"/><circle cx="638.06" cy="278.3" r="1.75"/></g>
<path d="M652.73 242.2V255.2M652.73 263.4V267.1M650.53 242.2H654.93M650.53 267.1H654.93" fill="none" stroke="#787878" stroke-width="1.1"/>
<rect x="646.43" y="255.2" width="12.6" height="8.2" fill="#d9d9d9" stroke="#383838" stroke-width="1.15"/>
<path d="M646.43 259.6H659.03" stroke="#383838" stroke-width="1.1"/>
<g fill="none" stroke="#141414" stroke-width="1.2"><circle cx="656.78" cy="234.9" r="1.75"/><circle cx="656.78" cy="252.6" r="1.75"/><circle cx="656.78" cy="255.8" r="1.75"/><circle cx="656.78" cy="259" r="1.75"/><circle cx="656.78" cy="262.1" r="1.75"/><circle cx="656.78" cy="265" r="1.75"/><circle cx="656.78" cy="270.3" r="1.75"/></g>
<path d="M671.45 249.2V260.5M671.45 269.8V287.4M669.25 249.2H673.65M669.25 287.4H673.65" fill="none" stroke="#787878" stroke-width="1.1"/>
<rect x="665.15" y="260.5" width="12.6" height="9.3" fill="#d9d9d9" stroke="#383838" stroke-width="1.15"/>
<path d="M665.15 261.5H677.75" stroke="#383838" stroke-width="1.1"/>
<g fill="none" stroke="#141414" stroke-width="1.2"><circle cx="675.5" cy="248.2" r="1.75"/><circle cx="675.5" cy="252" r="1.75"/><circle cx="675.5" cy="261" r="1.75"/><circle cx="675.5" cy="261.5" r="1.75"/><circle cx="675.5" cy="269.8" r="1.75"/><circle cx="675.5" cy="270.3" r="1.75"/><circle cx="675.5" cy="275.5" r="1.75"/><circle cx="675.5" cy="297.1" r="1.75"/></g>
<path d="M690.17 252V263.4M690.17 269.7V281.9M687.97 252H692.37M687.97 281.9H692.37" fill="none" stroke="#787878" stroke-width="1.1"/>
<rect x="683.87" y="263.4" width="12.6" height="6.3" fill="#d9d9d9" stroke="#383838" stroke-width="1.15"/>
<path d="M683.87 266.6H696.47" stroke="#383838" stroke-width="1.1"/>
<g fill="none" stroke="#141414" stroke-width="1.2"><circle cx="694.22" cy="248.2" r="1.75"/><circle cx="694.22" cy="258" r="1.75"/><circle cx="694.22" cy="263.5" r="1.75"/><circle cx="694.22" cy="264" r="1.75"/><circle cx="694.22" cy="265.6" r="1.75"/><circle cx="694.22" cy="267.5" r="1.75"/><circle cx="694.22" cy="270.1" r="1.75"/><circle cx="694.22" cy="275.1" r="1.75"/><circle cx="694.22" cy="288.2" r="1.75"/></g>
<path d="M651.6 213.2V210.8Q651.6 209.5 652.9 209.5H688.7Q690 209.5 690 210.8V213.2" fill="none" stroke="#4a4a4a" stroke-width="0.9"/>
<text x="668.7" y="204.7" font-family="Liberation Serif, serif" font-size="12" fill="#101010" textLength="7.4" lengthAdjust="spacingAndGlyphs" stroke="#1a1a1a" stroke-width="0.3">φ</text>
</g>
</svg>
</body></html>
